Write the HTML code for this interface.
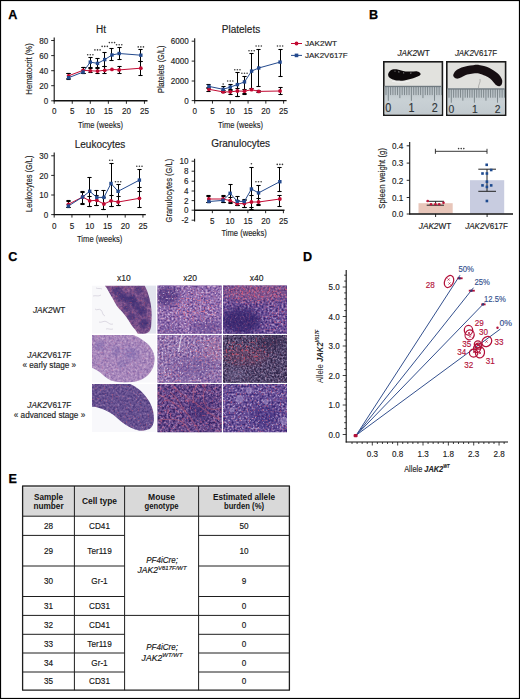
<!DOCTYPE html><html><head><meta charset="utf-8"><style>html,body{margin:0;padding:0;background:#fff;}svg{display:block;}text{font-family:"Liberation Sans",sans-serif;}</style></head><body>
<svg width="520" height="699" viewBox="0 0 520 699" fill="#222">
<rect x="0" y="0" width="520" height="699" fill="#fff"/>
<text x="8.20" y="18.80" font-size="12.6" text-anchor="start" font-weight="bold" fill="#000" stroke="#000" stroke-width="0.25">A</text>
<text x="369.00" y="18.75" font-size="12.6" text-anchor="start" font-weight="bold" fill="#000" stroke="#000" stroke-width="0.25">B</text>
<text x="8.20" y="261.40" font-size="12.6" text-anchor="start" font-weight="bold" fill="#000" stroke="#000" stroke-width="0.25">C</text>
<text x="302.90" y="261.20" font-size="12.6" text-anchor="start" font-weight="bold" fill="#000" stroke="#000" stroke-width="0.25">D</text>
<text x="8.40" y="482.60" font-size="12.6" text-anchor="start" font-weight="bold" fill="#000" stroke="#000" stroke-width="0.25">E</text>
<line x1="54.20" y1="37.50" x2="54.20" y2="101.30" stroke="#111" stroke-width="1.1"/>
<line x1="53.70" y1="100.80" x2="147.50" y2="100.80" stroke="#111" stroke-width="1.4"/>
<line x1="51.20" y1="40.50" x2="54.20" y2="40.50" stroke="#111" stroke-width="0.9"/>
<text x="48.30" y="43.70" font-size="9" text-anchor="end" fill="#222" stroke="#222" stroke-width="0.15" textLength="9.01" lengthAdjust="spacingAndGlyphs">80</text>
<line x1="51.20" y1="55.60" x2="54.20" y2="55.60" stroke="#111" stroke-width="0.9"/>
<text x="48.30" y="58.80" font-size="9" text-anchor="end" fill="#222" stroke="#222" stroke-width="0.15" textLength="9.01" lengthAdjust="spacingAndGlyphs">60</text>
<line x1="51.20" y1="70.70" x2="54.20" y2="70.70" stroke="#111" stroke-width="0.9"/>
<text x="48.30" y="73.90" font-size="9" text-anchor="end" fill="#222" stroke="#222" stroke-width="0.15" textLength="9.01" lengthAdjust="spacingAndGlyphs">40</text>
<line x1="51.20" y1="85.70" x2="54.20" y2="85.70" stroke="#111" stroke-width="0.9"/>
<text x="48.30" y="88.90" font-size="9" text-anchor="end" fill="#222" stroke="#222" stroke-width="0.15" textLength="9.01" lengthAdjust="spacingAndGlyphs">20</text>
<line x1="51.20" y1="100.80" x2="54.20" y2="100.80" stroke="#111" stroke-width="0.9"/>
<text x="48.30" y="104.00" font-size="9" text-anchor="end" fill="#222" stroke="#222" stroke-width="0.15" textLength="4.50" lengthAdjust="spacingAndGlyphs">0</text>
<line x1="54.20" y1="100.80" x2="54.20" y2="103.80" stroke="#111" stroke-width="0.9"/>
<text x="54.20" y="114.10" font-size="9" text-anchor="middle" fill="#222" stroke="#222" stroke-width="0.15" textLength="4.50" lengthAdjust="spacingAndGlyphs">0</text>
<line x1="72.25" y1="100.80" x2="72.25" y2="103.80" stroke="#111" stroke-width="0.9"/>
<text x="72.25" y="114.10" font-size="9" text-anchor="middle" fill="#222" stroke="#222" stroke-width="0.15" textLength="4.50" lengthAdjust="spacingAndGlyphs">5</text>
<line x1="90.30" y1="100.80" x2="90.30" y2="103.80" stroke="#111" stroke-width="0.9"/>
<text x="90.30" y="114.10" font-size="9" text-anchor="middle" fill="#222" stroke="#222" stroke-width="0.15" textLength="9.01" lengthAdjust="spacingAndGlyphs">10</text>
<line x1="108.35" y1="100.80" x2="108.35" y2="103.80" stroke="#111" stroke-width="0.9"/>
<text x="108.35" y="114.10" font-size="9" text-anchor="middle" fill="#222" stroke="#222" stroke-width="0.15" textLength="9.01" lengthAdjust="spacingAndGlyphs">15</text>
<line x1="126.40" y1="100.80" x2="126.40" y2="103.80" stroke="#111" stroke-width="0.9"/>
<text x="126.40" y="114.10" font-size="9" text-anchor="middle" fill="#222" stroke="#222" stroke-width="0.15" textLength="9.01" lengthAdjust="spacingAndGlyphs">20</text>
<line x1="144.45" y1="100.80" x2="144.45" y2="103.80" stroke="#111" stroke-width="0.9"/>
<text x="144.45" y="114.10" font-size="9" text-anchor="middle" fill="#222" stroke="#222" stroke-width="0.15" textLength="9.01" lengthAdjust="spacingAndGlyphs">25</text>
<line x1="68.50" y1="73.70" x2="68.50" y2="79.00" stroke="#000" stroke-width="1"/>
<line x1="66.40" y1="73.50" x2="70.60" y2="73.50" stroke="#000" stroke-width="1.1"/>
<line x1="66.40" y1="79.50" x2="70.60" y2="79.50" stroke="#000" stroke-width="1.1"/>
<line x1="83.50" y1="67.70" x2="83.50" y2="73.70" stroke="#000" stroke-width="1"/>
<line x1="81.40" y1="67.50" x2="85.60" y2="67.50" stroke="#000" stroke-width="1.1"/>
<line x1="81.40" y1="73.50" x2="85.60" y2="73.50" stroke="#000" stroke-width="1.1"/>
<line x1="90.50" y1="57.30" x2="90.50" y2="67.70" stroke="#000" stroke-width="1"/>
<line x1="88.40" y1="57.50" x2="92.60" y2="57.50" stroke="#000" stroke-width="1.1"/>
<line x1="88.40" y1="67.50" x2="92.60" y2="67.50" stroke="#000" stroke-width="1.1"/>
<line x1="97.50" y1="58.50" x2="97.50" y2="67.70" stroke="#000" stroke-width="1"/>
<line x1="95.40" y1="58.50" x2="99.60" y2="58.50" stroke="#000" stroke-width="1.1"/>
<line x1="95.40" y1="67.50" x2="99.60" y2="67.50" stroke="#000" stroke-width="1.1"/>
<line x1="104.50" y1="52.60" x2="104.50" y2="66.00" stroke="#000" stroke-width="1"/>
<line x1="102.40" y1="52.50" x2="106.60" y2="52.50" stroke="#000" stroke-width="1.1"/>
<line x1="102.40" y1="66.50" x2="106.60" y2="66.50" stroke="#000" stroke-width="1.1"/>
<line x1="111.50" y1="48.70" x2="111.50" y2="60.80" stroke="#000" stroke-width="1"/>
<line x1="109.40" y1="48.50" x2="113.60" y2="48.50" stroke="#000" stroke-width="1.1"/>
<line x1="109.40" y1="60.50" x2="113.60" y2="60.50" stroke="#000" stroke-width="1.1"/>
<line x1="119.50" y1="47.30" x2="119.50" y2="59.90" stroke="#000" stroke-width="1"/>
<line x1="117.40" y1="47.50" x2="121.60" y2="47.50" stroke="#000" stroke-width="1.1"/>
<line x1="117.40" y1="59.50" x2="121.60" y2="59.50" stroke="#000" stroke-width="1.1"/>
<line x1="140.50" y1="49.50" x2="140.50" y2="61.10" stroke="#000" stroke-width="1"/>
<line x1="138.40" y1="49.50" x2="142.60" y2="49.50" stroke="#000" stroke-width="1.1"/>
<line x1="138.40" y1="61.50" x2="142.60" y2="61.50" stroke="#000" stroke-width="1.1"/>
<line x1="68.50" y1="73.20" x2="68.50" y2="78.00" stroke="#000" stroke-width="1"/>
<line x1="66.40" y1="73.50" x2="70.60" y2="73.50" stroke="#000" stroke-width="1.1"/>
<line x1="66.40" y1="78.50" x2="70.60" y2="78.50" stroke="#000" stroke-width="1.1"/>
<line x1="83.50" y1="67.50" x2="83.50" y2="73.50" stroke="#000" stroke-width="1"/>
<line x1="81.40" y1="67.50" x2="85.60" y2="67.50" stroke="#000" stroke-width="1.1"/>
<line x1="81.40" y1="73.50" x2="85.60" y2="73.50" stroke="#000" stroke-width="1.1"/>
<line x1="90.50" y1="68.00" x2="90.50" y2="72.90" stroke="#000" stroke-width="1"/>
<line x1="88.40" y1="68.50" x2="92.60" y2="68.50" stroke="#000" stroke-width="1.1"/>
<line x1="88.40" y1="72.50" x2="92.60" y2="72.50" stroke="#000" stroke-width="1.1"/>
<line x1="97.50" y1="68.00" x2="97.50" y2="73.20" stroke="#000" stroke-width="1"/>
<line x1="95.40" y1="68.50" x2="99.60" y2="68.50" stroke="#000" stroke-width="1.1"/>
<line x1="95.40" y1="73.50" x2="99.60" y2="73.50" stroke="#000" stroke-width="1.1"/>
<line x1="104.50" y1="66.00" x2="104.50" y2="73.20" stroke="#000" stroke-width="1"/>
<line x1="102.40" y1="66.50" x2="106.60" y2="66.50" stroke="#000" stroke-width="1.1"/>
<line x1="102.40" y1="73.50" x2="106.60" y2="73.50" stroke="#000" stroke-width="1.1"/>
<line x1="119.50" y1="66.80" x2="119.50" y2="73.20" stroke="#000" stroke-width="1"/>
<line x1="117.40" y1="66.50" x2="121.60" y2="66.50" stroke="#000" stroke-width="1.1"/>
<line x1="117.40" y1="73.50" x2="121.60" y2="73.50" stroke="#000" stroke-width="1.1"/>
<line x1="140.50" y1="61.10" x2="140.50" y2="75.50" stroke="#000" stroke-width="1"/>
<line x1="138.40" y1="61.50" x2="142.60" y2="61.50" stroke="#000" stroke-width="1.1"/>
<line x1="138.40" y1="75.50" x2="142.60" y2="75.50" stroke="#000" stroke-width="1.1"/>
<polyline points="68.64,75.80 83.08,70.30 90.30,70.80 97.52,71.10 104.74,70.30 111.96,69.40 119.18,69.90 140.84,68.20" fill="none" stroke="#c20a32" stroke-width="1"/>
<polyline points="68.64,77.70 83.08,72.00 90.30,62.10 97.52,63.40 104.74,59.60 111.96,55.00 119.18,53.50 140.84,55.20" fill="none" stroke="#244a8e" stroke-width="1"/>
<circle cx="68.64" cy="75.80" r="1.9" fill="#c20a32"/>
<circle cx="83.08" cy="70.30" r="1.9" fill="#c20a32"/>
<circle cx="90.30" cy="70.80" r="1.9" fill="#c20a32"/>
<circle cx="97.52" cy="71.10" r="1.9" fill="#c20a32"/>
<circle cx="104.74" cy="70.30" r="1.9" fill="#c20a32"/>
<circle cx="111.96" cy="69.40" r="1.9" fill="#c20a32"/>
<circle cx="119.18" cy="69.90" r="1.9" fill="#c20a32"/>
<circle cx="140.84" cy="68.20" r="1.9" fill="#c20a32"/>
<rect x="66.94" y="76.00" width="3.4" height="3.4" fill="#244a8e"/>
<rect x="81.38" y="70.30" width="3.4" height="3.4" fill="#244a8e"/>
<rect x="88.60" y="60.40" width="3.4" height="3.4" fill="#244a8e"/>
<rect x="95.82" y="61.70" width="3.4" height="3.4" fill="#244a8e"/>
<rect x="103.04" y="57.90" width="3.4" height="3.4" fill="#244a8e"/>
<rect x="110.26" y="53.30" width="3.4" height="3.4" fill="#244a8e"/>
<rect x="117.48" y="51.80" width="3.4" height="3.4" fill="#244a8e"/>
<rect x="139.14" y="53.50" width="3.4" height="3.4" fill="#244a8e"/>
<circle cx="87.70" cy="54.70" r="0.8" fill="#3a3a3a"/>
<circle cx="90.30" cy="54.70" r="0.8" fill="#3a3a3a"/>
<circle cx="92.90" cy="54.70" r="0.8" fill="#3a3a3a"/>
<circle cx="94.92" cy="49.90" r="0.8" fill="#3a3a3a"/>
<circle cx="97.52" cy="49.90" r="0.8" fill="#3a3a3a"/>
<circle cx="100.12" cy="49.90" r="0.8" fill="#3a3a3a"/>
<circle cx="102.14" cy="46.40" r="0.8" fill="#3a3a3a"/>
<circle cx="104.74" cy="46.40" r="0.8" fill="#3a3a3a"/>
<circle cx="107.34" cy="46.40" r="0.8" fill="#3a3a3a"/>
<circle cx="109.36" cy="42.60" r="0.8" fill="#3a3a3a"/>
<circle cx="111.96" cy="42.60" r="0.8" fill="#3a3a3a"/>
<circle cx="114.56" cy="42.60" r="0.8" fill="#3a3a3a"/>
<circle cx="116.58" cy="44.80" r="0.8" fill="#3a3a3a"/>
<circle cx="119.18" cy="44.80" r="0.8" fill="#3a3a3a"/>
<circle cx="121.78" cy="44.80" r="0.8" fill="#3a3a3a"/>
<circle cx="138.24" cy="46.90" r="0.8" fill="#3a3a3a"/>
<circle cx="140.84" cy="46.90" r="0.8" fill="#3a3a3a"/>
<circle cx="143.44" cy="46.90" r="0.8" fill="#3a3a3a"/>
<text x="101.00" y="33.00" font-size="10" text-anchor="middle" fill="#222" stroke="#222" stroke-width="0.15">Ht</text>
<text transform="translate(32.13,69.00) rotate(-90)" x="0" y="0" font-size="9.8" text-anchor="middle" stroke="#222" stroke-width="0.15" textLength="51.40" lengthAdjust="spacingAndGlyphs">Hematocrit (%)</text>
<text x="78.00" y="127.60" font-size="9.8" text-anchor="start" fill="#222" stroke="#222" stroke-width="0.15" textLength="45.00" lengthAdjust="spacingAndGlyphs">Time (weeks)</text>
<line x1="194.70" y1="38.20" x2="194.70" y2="101.10" stroke="#111" stroke-width="1.1"/>
<line x1="194.20" y1="100.60" x2="286.60" y2="100.60" stroke="#111" stroke-width="1.4"/>
<line x1="191.70" y1="41.20" x2="194.70" y2="41.20" stroke="#111" stroke-width="0.9"/>
<text x="188.80" y="44.40" font-size="9" text-anchor="end" fill="#222" stroke="#222" stroke-width="0.15" textLength="18.02" lengthAdjust="spacingAndGlyphs">6000</text>
<line x1="191.70" y1="61.10" x2="194.70" y2="61.10" stroke="#111" stroke-width="0.9"/>
<text x="188.80" y="64.30" font-size="9" text-anchor="end" fill="#222" stroke="#222" stroke-width="0.15" textLength="18.02" lengthAdjust="spacingAndGlyphs">4000</text>
<line x1="191.70" y1="81.00" x2="194.70" y2="81.00" stroke="#111" stroke-width="0.9"/>
<text x="188.80" y="84.20" font-size="9" text-anchor="end" fill="#222" stroke="#222" stroke-width="0.15" textLength="18.02" lengthAdjust="spacingAndGlyphs">2000</text>
<line x1="191.70" y1="100.60" x2="194.70" y2="100.60" stroke="#111" stroke-width="0.9"/>
<text x="188.80" y="103.80" font-size="9" text-anchor="end" fill="#222" stroke="#222" stroke-width="0.15" textLength="4.50" lengthAdjust="spacingAndGlyphs">0</text>
<line x1="194.70" y1="100.60" x2="194.70" y2="103.60" stroke="#111" stroke-width="0.9"/>
<text x="194.70" y="114.10" font-size="9" text-anchor="middle" fill="#222" stroke="#222" stroke-width="0.15" textLength="4.50" lengthAdjust="spacingAndGlyphs">0</text>
<line x1="212.48" y1="100.60" x2="212.48" y2="103.60" stroke="#111" stroke-width="0.9"/>
<text x="212.48" y="114.10" font-size="9" text-anchor="middle" fill="#222" stroke="#222" stroke-width="0.15" textLength="4.50" lengthAdjust="spacingAndGlyphs">5</text>
<line x1="230.26" y1="100.60" x2="230.26" y2="103.60" stroke="#111" stroke-width="0.9"/>
<text x="230.26" y="114.10" font-size="9" text-anchor="middle" fill="#222" stroke="#222" stroke-width="0.15" textLength="9.01" lengthAdjust="spacingAndGlyphs">10</text>
<line x1="248.05" y1="100.60" x2="248.05" y2="103.60" stroke="#111" stroke-width="0.9"/>
<text x="248.05" y="114.10" font-size="9" text-anchor="middle" fill="#222" stroke="#222" stroke-width="0.15" textLength="9.01" lengthAdjust="spacingAndGlyphs">15</text>
<line x1="265.83" y1="100.60" x2="265.83" y2="103.60" stroke="#111" stroke-width="0.9"/>
<text x="265.83" y="114.10" font-size="9" text-anchor="middle" fill="#222" stroke="#222" stroke-width="0.15" textLength="9.01" lengthAdjust="spacingAndGlyphs">20</text>
<line x1="283.61" y1="100.60" x2="283.61" y2="103.60" stroke="#111" stroke-width="0.9"/>
<text x="283.61" y="114.10" font-size="9" text-anchor="middle" fill="#222" stroke="#222" stroke-width="0.15" textLength="9.01" lengthAdjust="spacingAndGlyphs">25</text>
<line x1="208.50" y1="84.80" x2="208.50" y2="88.00" stroke="#000" stroke-width="1"/>
<line x1="206.40" y1="84.50" x2="210.60" y2="84.50" stroke="#000" stroke-width="1.1"/>
<line x1="206.40" y1="88.50" x2="210.60" y2="88.50" stroke="#000" stroke-width="1.1"/>
<line x1="223.50" y1="86.70" x2="223.50" y2="92.00" stroke="#000" stroke-width="1"/>
<line x1="221.40" y1="86.50" x2="225.60" y2="86.50" stroke="#000" stroke-width="1.1"/>
<line x1="221.40" y1="92.50" x2="225.60" y2="92.50" stroke="#000" stroke-width="1.1"/>
<line x1="230.50" y1="84.10" x2="230.50" y2="90.00" stroke="#000" stroke-width="1"/>
<line x1="228.40" y1="84.50" x2="232.60" y2="84.50" stroke="#000" stroke-width="1.1"/>
<line x1="228.40" y1="90.50" x2="232.60" y2="90.50" stroke="#000" stroke-width="1.1"/>
<line x1="237.50" y1="72.50" x2="237.50" y2="96.20" stroke="#000" stroke-width="1"/>
<line x1="235.40" y1="72.50" x2="239.60" y2="72.50" stroke="#000" stroke-width="1.1"/>
<line x1="235.40" y1="96.50" x2="239.60" y2="96.50" stroke="#000" stroke-width="1.1"/>
<line x1="244.50" y1="76.00" x2="244.50" y2="93.60" stroke="#000" stroke-width="1"/>
<line x1="242.40" y1="76.50" x2="246.60" y2="76.50" stroke="#000" stroke-width="1.1"/>
<line x1="242.40" y1="93.50" x2="246.60" y2="93.50" stroke="#000" stroke-width="1.1"/>
<line x1="251.50" y1="53.50" x2="251.50" y2="88.40" stroke="#000" stroke-width="1"/>
<line x1="249.40" y1="53.50" x2="253.60" y2="53.50" stroke="#000" stroke-width="1.1"/>
<line x1="249.40" y1="88.50" x2="253.60" y2="88.50" stroke="#000" stroke-width="1.1"/>
<line x1="258.50" y1="49.00" x2="258.50" y2="86.70" stroke="#000" stroke-width="1"/>
<line x1="256.40" y1="49.50" x2="260.60" y2="49.50" stroke="#000" stroke-width="1.1"/>
<line x1="256.40" y1="86.50" x2="260.60" y2="86.50" stroke="#000" stroke-width="1.1"/>
<line x1="280.50" y1="49.00" x2="280.50" y2="76.30" stroke="#000" stroke-width="1"/>
<line x1="278.40" y1="49.50" x2="282.60" y2="49.50" stroke="#000" stroke-width="1.1"/>
<line x1="278.40" y1="76.50" x2="282.60" y2="76.50" stroke="#000" stroke-width="1.1"/>
<line x1="208.50" y1="87.50" x2="208.50" y2="91.00" stroke="#000" stroke-width="1"/>
<line x1="206.40" y1="87.50" x2="210.60" y2="87.50" stroke="#000" stroke-width="1.1"/>
<line x1="206.40" y1="91.50" x2="210.60" y2="91.50" stroke="#000" stroke-width="1.1"/>
<line x1="223.50" y1="90.00" x2="223.50" y2="92.80" stroke="#000" stroke-width="1"/>
<line x1="221.40" y1="90.50" x2="225.60" y2="90.50" stroke="#000" stroke-width="1.1"/>
<line x1="221.40" y1="92.50" x2="225.60" y2="92.50" stroke="#000" stroke-width="1.1"/>
<line x1="230.50" y1="89.00" x2="230.50" y2="94.50" stroke="#000" stroke-width="1"/>
<line x1="228.40" y1="89.50" x2="232.60" y2="89.50" stroke="#000" stroke-width="1.1"/>
<line x1="228.40" y1="94.50" x2="232.60" y2="94.50" stroke="#000" stroke-width="1.1"/>
<line x1="237.50" y1="88.00" x2="237.50" y2="96.20" stroke="#000" stroke-width="1"/>
<line x1="235.40" y1="88.50" x2="239.60" y2="88.50" stroke="#000" stroke-width="1.1"/>
<line x1="235.40" y1="96.50" x2="239.60" y2="96.50" stroke="#000" stroke-width="1.1"/>
<line x1="244.50" y1="89.00" x2="244.50" y2="94.00" stroke="#000" stroke-width="1"/>
<line x1="242.40" y1="89.50" x2="246.60" y2="89.50" stroke="#000" stroke-width="1.1"/>
<line x1="242.40" y1="94.50" x2="246.60" y2="94.50" stroke="#000" stroke-width="1.1"/>
<line x1="258.50" y1="90.20" x2="258.50" y2="92.80" stroke="#000" stroke-width="1"/>
<line x1="256.40" y1="90.50" x2="260.60" y2="90.50" stroke="#000" stroke-width="1.1"/>
<line x1="256.40" y1="92.50" x2="260.60" y2="92.50" stroke="#000" stroke-width="1.1"/>
<line x1="280.50" y1="87.00" x2="280.50" y2="94.50" stroke="#000" stroke-width="1"/>
<line x1="278.40" y1="87.50" x2="282.60" y2="87.50" stroke="#000" stroke-width="1.1"/>
<line x1="278.40" y1="94.50" x2="282.60" y2="94.50" stroke="#000" stroke-width="1.1"/>
<polyline points="208.93,89.30 223.15,91.90 230.26,91.90 237.38,91.00 244.49,91.20 251.60,89.70 258.72,91.40 280.06,91.00" fill="none" stroke="#c20a32" stroke-width="1"/>
<polyline points="208.93,86.40 223.15,89.30 230.26,87.10 237.38,84.60 244.49,81.90 251.60,71.10 258.72,68.00 280.06,62.10" fill="none" stroke="#244a8e" stroke-width="1"/>
<circle cx="208.93" cy="89.30" r="1.9" fill="#c20a32"/>
<circle cx="223.15" cy="91.90" r="1.9" fill="#c20a32"/>
<circle cx="230.26" cy="91.90" r="1.9" fill="#c20a32"/>
<circle cx="237.38" cy="91.00" r="1.9" fill="#c20a32"/>
<circle cx="244.49" cy="91.20" r="1.9" fill="#c20a32"/>
<circle cx="251.60" cy="89.70" r="1.9" fill="#c20a32"/>
<circle cx="258.72" cy="91.40" r="1.9" fill="#c20a32"/>
<circle cx="280.06" cy="91.00" r="1.9" fill="#c20a32"/>
<rect x="207.23" y="84.70" width="3.4" height="3.4" fill="#244a8e"/>
<rect x="221.45" y="87.60" width="3.4" height="3.4" fill="#244a8e"/>
<rect x="228.56" y="85.40" width="3.4" height="3.4" fill="#244a8e"/>
<rect x="235.68" y="82.90" width="3.4" height="3.4" fill="#244a8e"/>
<rect x="242.79" y="80.20" width="3.4" height="3.4" fill="#244a8e"/>
<rect x="249.90" y="69.40" width="3.4" height="3.4" fill="#244a8e"/>
<rect x="257.02" y="66.30" width="3.4" height="3.4" fill="#244a8e"/>
<rect x="278.36" y="60.40" width="3.4" height="3.4" fill="#244a8e"/>
<circle cx="223.15" cy="84.10" r="0.8" fill="#3a3a3a"/>
<circle cx="227.66" cy="81.00" r="0.8" fill="#3a3a3a"/>
<circle cx="230.26" cy="81.00" r="0.8" fill="#3a3a3a"/>
<circle cx="232.86" cy="81.00" r="0.8" fill="#3a3a3a"/>
<circle cx="234.78" cy="69.80" r="0.8" fill="#3a3a3a"/>
<circle cx="237.38" cy="69.80" r="0.8" fill="#3a3a3a"/>
<circle cx="239.98" cy="69.80" r="0.8" fill="#3a3a3a"/>
<circle cx="241.89" cy="73.20" r="0.8" fill="#3a3a3a"/>
<circle cx="244.49" cy="73.20" r="0.8" fill="#3a3a3a"/>
<circle cx="247.09" cy="73.20" r="0.8" fill="#3a3a3a"/>
<circle cx="249.00" cy="50.70" r="0.8" fill="#3a3a3a"/>
<circle cx="251.60" cy="50.70" r="0.8" fill="#3a3a3a"/>
<circle cx="254.20" cy="50.70" r="0.8" fill="#3a3a3a"/>
<circle cx="256.12" cy="46.00" r="0.8" fill="#3a3a3a"/>
<circle cx="258.72" cy="46.00" r="0.8" fill="#3a3a3a"/>
<circle cx="261.32" cy="46.00" r="0.8" fill="#3a3a3a"/>
<circle cx="277.46" cy="46.00" r="0.8" fill="#3a3a3a"/>
<circle cx="280.06" cy="46.00" r="0.8" fill="#3a3a3a"/>
<circle cx="282.66" cy="46.00" r="0.8" fill="#3a3a3a"/>
<text x="241.00" y="33.30" font-size="10" text-anchor="middle" fill="#222" stroke="#222" stroke-width="0.15">Platelets</text>
<text transform="translate(163.73,69.20) rotate(-90)" x="0" y="0" font-size="9.8" text-anchor="middle" stroke="#222" stroke-width="0.15" textLength="47.60" lengthAdjust="spacingAndGlyphs">Platelets (G/L)</text>
<text x="218.00" y="127.60" font-size="9.8" text-anchor="start" fill="#222" stroke="#222" stroke-width="0.15" textLength="45.00" lengthAdjust="spacingAndGlyphs">Time (weeks)</text>
<line x1="54.20" y1="152.50" x2="54.20" y2="215.10" stroke="#111" stroke-width="1.1"/>
<line x1="53.70" y1="214.60" x2="145.80" y2="214.60" stroke="#111" stroke-width="1.4"/>
<line x1="51.20" y1="155.80" x2="54.20" y2="155.80" stroke="#111" stroke-width="0.9"/>
<text x="48.30" y="159.00" font-size="9" text-anchor="end" fill="#222" stroke="#222" stroke-width="0.15" textLength="9.01" lengthAdjust="spacingAndGlyphs">30</text>
<line x1="51.20" y1="175.40" x2="54.20" y2="175.40" stroke="#111" stroke-width="0.9"/>
<text x="48.30" y="178.60" font-size="9" text-anchor="end" fill="#222" stroke="#222" stroke-width="0.15" textLength="9.01" lengthAdjust="spacingAndGlyphs">20</text>
<line x1="51.20" y1="195.00" x2="54.20" y2="195.00" stroke="#111" stroke-width="0.9"/>
<text x="48.30" y="198.20" font-size="9" text-anchor="end" fill="#222" stroke="#222" stroke-width="0.15" textLength="9.01" lengthAdjust="spacingAndGlyphs">10</text>
<line x1="51.20" y1="214.60" x2="54.20" y2="214.60" stroke="#111" stroke-width="0.9"/>
<text x="48.30" y="217.80" font-size="9" text-anchor="end" fill="#222" stroke="#222" stroke-width="0.15" textLength="4.50" lengthAdjust="spacingAndGlyphs">0</text>
<line x1="54.20" y1="214.60" x2="54.20" y2="217.60" stroke="#111" stroke-width="0.9"/>
<text x="54.20" y="228.60" font-size="9" text-anchor="middle" fill="#222" stroke="#222" stroke-width="0.15" textLength="4.50" lengthAdjust="spacingAndGlyphs">0</text>
<line x1="71.95" y1="214.60" x2="71.95" y2="217.60" stroke="#111" stroke-width="0.9"/>
<text x="71.95" y="228.60" font-size="9" text-anchor="middle" fill="#222" stroke="#222" stroke-width="0.15" textLength="4.50" lengthAdjust="spacingAndGlyphs">5</text>
<line x1="89.70" y1="214.60" x2="89.70" y2="217.60" stroke="#111" stroke-width="0.9"/>
<text x="89.70" y="228.60" font-size="9" text-anchor="middle" fill="#222" stroke="#222" stroke-width="0.15" textLength="9.01" lengthAdjust="spacingAndGlyphs">10</text>
<line x1="107.45" y1="214.60" x2="107.45" y2="217.60" stroke="#111" stroke-width="0.9"/>
<text x="107.45" y="228.60" font-size="9" text-anchor="middle" fill="#222" stroke="#222" stroke-width="0.15" textLength="9.01" lengthAdjust="spacingAndGlyphs">15</text>
<line x1="125.20" y1="214.60" x2="125.20" y2="217.60" stroke="#111" stroke-width="0.9"/>
<text x="125.20" y="228.60" font-size="9" text-anchor="middle" fill="#222" stroke="#222" stroke-width="0.15" textLength="9.01" lengthAdjust="spacingAndGlyphs">20</text>
<line x1="142.95" y1="214.60" x2="142.95" y2="217.60" stroke="#111" stroke-width="0.9"/>
<text x="142.95" y="228.60" font-size="9" text-anchor="middle" fill="#222" stroke="#222" stroke-width="0.15" textLength="9.01" lengthAdjust="spacingAndGlyphs">25</text>
<line x1="68.50" y1="200.80" x2="68.50" y2="207.80" stroke="#000" stroke-width="1"/>
<line x1="66.40" y1="200.50" x2="70.60" y2="200.50" stroke="#000" stroke-width="1.1"/>
<line x1="66.40" y1="207.50" x2="70.60" y2="207.50" stroke="#000" stroke-width="1.1"/>
<line x1="82.50" y1="191.70" x2="82.50" y2="204.30" stroke="#000" stroke-width="1"/>
<line x1="80.40" y1="191.50" x2="84.60" y2="191.50" stroke="#000" stroke-width="1.1"/>
<line x1="80.40" y1="204.50" x2="84.60" y2="204.50" stroke="#000" stroke-width="1.1"/>
<line x1="89.50" y1="177.50" x2="89.50" y2="206.60" stroke="#000" stroke-width="1"/>
<line x1="87.40" y1="177.50" x2="91.60" y2="177.50" stroke="#000" stroke-width="1.1"/>
<line x1="87.40" y1="206.50" x2="91.60" y2="206.50" stroke="#000" stroke-width="1.1"/>
<line x1="96.50" y1="190.50" x2="96.50" y2="205.20" stroke="#000" stroke-width="1"/>
<line x1="94.40" y1="190.50" x2="98.60" y2="190.50" stroke="#000" stroke-width="1.1"/>
<line x1="94.40" y1="205.50" x2="98.60" y2="205.50" stroke="#000" stroke-width="1.1"/>
<line x1="103.50" y1="190.50" x2="103.50" y2="209.00" stroke="#000" stroke-width="1"/>
<line x1="101.40" y1="190.50" x2="105.60" y2="190.50" stroke="#000" stroke-width="1.1"/>
<line x1="101.40" y1="209.50" x2="105.60" y2="209.50" stroke="#000" stroke-width="1.1"/>
<line x1="111.50" y1="163.30" x2="111.50" y2="206.00" stroke="#000" stroke-width="1"/>
<line x1="109.40" y1="163.50" x2="113.60" y2="163.50" stroke="#000" stroke-width="1.1"/>
<line x1="109.40" y1="206.50" x2="113.60" y2="206.50" stroke="#000" stroke-width="1.1"/>
<line x1="118.50" y1="184.40" x2="118.50" y2="205.50" stroke="#000" stroke-width="1"/>
<line x1="116.40" y1="184.50" x2="120.60" y2="184.50" stroke="#000" stroke-width="1.1"/>
<line x1="116.40" y1="205.50" x2="120.60" y2="205.50" stroke="#000" stroke-width="1.1"/>
<line x1="139.50" y1="169.20" x2="139.50" y2="191.30" stroke="#000" stroke-width="1"/>
<line x1="137.40" y1="169.50" x2="141.60" y2="169.50" stroke="#000" stroke-width="1.1"/>
<line x1="137.40" y1="191.50" x2="141.60" y2="191.50" stroke="#000" stroke-width="1.1"/>
<line x1="68.50" y1="201.00" x2="68.50" y2="207.50" stroke="#000" stroke-width="1"/>
<line x1="66.40" y1="201.50" x2="70.60" y2="201.50" stroke="#000" stroke-width="1.1"/>
<line x1="66.40" y1="207.50" x2="70.60" y2="207.50" stroke="#000" stroke-width="1.1"/>
<line x1="82.50" y1="192.00" x2="82.50" y2="203.50" stroke="#000" stroke-width="1"/>
<line x1="80.40" y1="192.50" x2="84.60" y2="192.50" stroke="#000" stroke-width="1.1"/>
<line x1="80.40" y1="203.50" x2="84.60" y2="203.50" stroke="#000" stroke-width="1.1"/>
<line x1="89.50" y1="196.00" x2="89.50" y2="206.00" stroke="#000" stroke-width="1"/>
<line x1="87.40" y1="196.50" x2="91.60" y2="196.50" stroke="#000" stroke-width="1.1"/>
<line x1="87.40" y1="206.50" x2="91.60" y2="206.50" stroke="#000" stroke-width="1.1"/>
<line x1="96.50" y1="195.00" x2="96.50" y2="205.00" stroke="#000" stroke-width="1"/>
<line x1="94.40" y1="195.50" x2="98.60" y2="195.50" stroke="#000" stroke-width="1.1"/>
<line x1="94.40" y1="205.50" x2="98.60" y2="205.50" stroke="#000" stroke-width="1.1"/>
<line x1="103.50" y1="197.00" x2="103.50" y2="209.00" stroke="#000" stroke-width="1"/>
<line x1="101.40" y1="197.50" x2="105.60" y2="197.50" stroke="#000" stroke-width="1.1"/>
<line x1="101.40" y1="209.50" x2="105.60" y2="209.50" stroke="#000" stroke-width="1.1"/>
<line x1="111.50" y1="195.00" x2="111.50" y2="206.00" stroke="#000" stroke-width="1"/>
<line x1="109.40" y1="195.50" x2="113.60" y2="195.50" stroke="#000" stroke-width="1.1"/>
<line x1="109.40" y1="206.50" x2="113.60" y2="206.50" stroke="#000" stroke-width="1.1"/>
<line x1="118.50" y1="196.00" x2="118.50" y2="205.50" stroke="#000" stroke-width="1"/>
<line x1="116.40" y1="196.50" x2="120.60" y2="196.50" stroke="#000" stroke-width="1.1"/>
<line x1="116.40" y1="205.50" x2="120.60" y2="205.50" stroke="#000" stroke-width="1.1"/>
<line x1="139.50" y1="187.90" x2="139.50" y2="207.80" stroke="#000" stroke-width="1"/>
<line x1="137.40" y1="187.50" x2="141.60" y2="187.50" stroke="#000" stroke-width="1.1"/>
<line x1="137.40" y1="207.50" x2="141.60" y2="207.50" stroke="#000" stroke-width="1.1"/>
<polyline points="68.40,204.30 82.60,197.00 89.70,200.80 96.80,200.30 103.90,204.00 111.00,200.80 118.10,202.00 139.40,198.30" fill="none" stroke="#c20a32" stroke-width="1"/>
<polyline points="68.40,206.00 82.60,197.00 89.70,191.30 96.80,197.40 103.90,197.40 111.00,183.50 118.10,191.30 139.40,180.10" fill="none" stroke="#244a8e" stroke-width="1"/>
<circle cx="68.40" cy="204.30" r="1.9" fill="#c20a32"/>
<circle cx="82.60" cy="197.00" r="1.9" fill="#c20a32"/>
<circle cx="89.70" cy="200.80" r="1.9" fill="#c20a32"/>
<circle cx="96.80" cy="200.30" r="1.9" fill="#c20a32"/>
<circle cx="103.90" cy="204.00" r="1.9" fill="#c20a32"/>
<circle cx="111.00" cy="200.80" r="1.9" fill="#c20a32"/>
<circle cx="118.10" cy="202.00" r="1.9" fill="#c20a32"/>
<circle cx="139.40" cy="198.30" r="1.9" fill="#c20a32"/>
<rect x="66.70" y="204.30" width="3.4" height="3.4" fill="#244a8e"/>
<rect x="80.90" y="195.30" width="3.4" height="3.4" fill="#244a8e"/>
<rect x="88.00" y="189.60" width="3.4" height="3.4" fill="#244a8e"/>
<rect x="95.10" y="195.70" width="3.4" height="3.4" fill="#244a8e"/>
<rect x="102.20" y="195.70" width="3.4" height="3.4" fill="#244a8e"/>
<rect x="109.30" y="181.80" width="3.4" height="3.4" fill="#244a8e"/>
<rect x="116.40" y="189.60" width="3.4" height="3.4" fill="#244a8e"/>
<rect x="137.70" y="178.40" width="3.4" height="3.4" fill="#244a8e"/>
<circle cx="109.70" cy="160.20" r="0.8" fill="#3a3a3a"/>
<circle cx="112.30" cy="160.20" r="0.8" fill="#3a3a3a"/>
<circle cx="115.50" cy="181.80" r="0.8" fill="#3a3a3a"/>
<circle cx="118.10" cy="181.80" r="0.8" fill="#3a3a3a"/>
<circle cx="120.70" cy="181.80" r="0.8" fill="#3a3a3a"/>
<circle cx="136.80" cy="166.20" r="0.8" fill="#3a3a3a"/>
<circle cx="139.40" cy="166.20" r="0.8" fill="#3a3a3a"/>
<circle cx="142.00" cy="166.20" r="0.8" fill="#3a3a3a"/>
<text x="100.00" y="148.00" font-size="10" text-anchor="middle" fill="#222" stroke="#222" stroke-width="0.15">Leukocytes</text>
<text transform="translate(31.53,183.80) rotate(-90)" x="0" y="0" font-size="9.8" text-anchor="middle" stroke="#222" stroke-width="0.15" textLength="56.40" lengthAdjust="spacingAndGlyphs">Leukocytes (G/L)</text>
<text x="77.00" y="242.00" font-size="9.8" text-anchor="start" fill="#222" stroke="#222" stroke-width="0.15" textLength="45.40" lengthAdjust="spacingAndGlyphs">Time (weeks)</text>
<line x1="194.60" y1="158.70" x2="194.60" y2="221.50" stroke="#111" stroke-width="1.1"/>
<line x1="194.10" y1="210.20" x2="284.50" y2="210.20" stroke="#111" stroke-width="1.4"/>
<line x1="191.60" y1="161.20" x2="194.60" y2="161.20" stroke="#111" stroke-width="0.9"/>
<text x="188.60" y="164.40" font-size="9" text-anchor="end" fill="#222" stroke="#222" stroke-width="0.15" textLength="9.01" lengthAdjust="spacingAndGlyphs">10</text>
<line x1="191.60" y1="171.20" x2="194.60" y2="171.20" stroke="#111" stroke-width="0.9"/>
<text x="188.60" y="174.40" font-size="9" text-anchor="end" fill="#222" stroke="#222" stroke-width="0.15" textLength="4.50" lengthAdjust="spacingAndGlyphs">8</text>
<line x1="191.60" y1="181.20" x2="194.60" y2="181.20" stroke="#111" stroke-width="0.9"/>
<text x="188.60" y="184.40" font-size="9" text-anchor="end" fill="#222" stroke="#222" stroke-width="0.15" textLength="4.50" lengthAdjust="spacingAndGlyphs">6</text>
<line x1="191.60" y1="191.00" x2="194.60" y2="191.00" stroke="#111" stroke-width="0.9"/>
<text x="188.60" y="194.20" font-size="9" text-anchor="end" fill="#222" stroke="#222" stroke-width="0.15" textLength="4.50" lengthAdjust="spacingAndGlyphs">4</text>
<line x1="191.60" y1="200.60" x2="194.60" y2="200.60" stroke="#111" stroke-width="0.9"/>
<text x="188.60" y="203.80" font-size="9" text-anchor="end" fill="#222" stroke="#222" stroke-width="0.15" textLength="4.50" lengthAdjust="spacingAndGlyphs">2</text>
<line x1="191.60" y1="210.20" x2="194.60" y2="210.20" stroke="#111" stroke-width="0.9"/>
<text x="188.60" y="213.40" font-size="9" text-anchor="end" fill="#222" stroke="#222" stroke-width="0.15" textLength="4.50" lengthAdjust="spacingAndGlyphs">0</text>
<line x1="191.60" y1="220.20" x2="194.60" y2="220.20" stroke="#111" stroke-width="0.9"/>
<text x="188.60" y="223.40" font-size="9" text-anchor="end" fill="#222" stroke="#222" stroke-width="0.15" textLength="7.20" lengthAdjust="spacingAndGlyphs">-2</text>
<line x1="212.36" y1="210.20" x2="212.36" y2="213.20" stroke="#111" stroke-width="0.9"/>
<text x="212.36" y="224.00" font-size="9" text-anchor="middle" fill="#222" stroke="#222" stroke-width="0.15" textLength="4.50" lengthAdjust="spacingAndGlyphs">5</text>
<line x1="230.12" y1="210.20" x2="230.12" y2="213.20" stroke="#111" stroke-width="0.9"/>
<text x="230.12" y="224.00" font-size="9" text-anchor="middle" fill="#222" stroke="#222" stroke-width="0.15" textLength="9.01" lengthAdjust="spacingAndGlyphs">10</text>
<line x1="247.88" y1="210.20" x2="247.88" y2="213.20" stroke="#111" stroke-width="0.9"/>
<text x="247.88" y="224.00" font-size="9" text-anchor="middle" fill="#222" stroke="#222" stroke-width="0.15" textLength="9.01" lengthAdjust="spacingAndGlyphs">15</text>
<line x1="265.64" y1="210.20" x2="265.64" y2="213.20" stroke="#111" stroke-width="0.9"/>
<text x="265.64" y="224.00" font-size="9" text-anchor="middle" fill="#222" stroke="#222" stroke-width="0.15" textLength="9.01" lengthAdjust="spacingAndGlyphs">20</text>
<line x1="283.40" y1="210.20" x2="283.40" y2="213.20" stroke="#111" stroke-width="0.9"/>
<text x="283.40" y="224.00" font-size="9" text-anchor="middle" fill="#222" stroke="#222" stroke-width="0.15" textLength="9.01" lengthAdjust="spacingAndGlyphs">25</text>
<line x1="208.50" y1="195.20" x2="208.50" y2="202.90" stroke="#000" stroke-width="1"/>
<line x1="206.40" y1="195.50" x2="210.60" y2="195.50" stroke="#000" stroke-width="1.1"/>
<line x1="206.40" y1="202.50" x2="210.60" y2="202.50" stroke="#000" stroke-width="1.1"/>
<line x1="223.50" y1="195.80" x2="223.50" y2="202.90" stroke="#000" stroke-width="1"/>
<line x1="221.40" y1="195.50" x2="225.60" y2="195.50" stroke="#000" stroke-width="1.1"/>
<line x1="221.40" y1="202.50" x2="225.60" y2="202.50" stroke="#000" stroke-width="1.1"/>
<line x1="230.50" y1="184.20" x2="230.50" y2="202.90" stroke="#000" stroke-width="1"/>
<line x1="228.40" y1="184.50" x2="232.60" y2="184.50" stroke="#000" stroke-width="1.1"/>
<line x1="228.40" y1="202.50" x2="232.60" y2="202.50" stroke="#000" stroke-width="1.1"/>
<line x1="237.50" y1="196.50" x2="237.50" y2="205.80" stroke="#000" stroke-width="1"/>
<line x1="235.40" y1="196.50" x2="239.60" y2="196.50" stroke="#000" stroke-width="1.1"/>
<line x1="235.40" y1="205.50" x2="239.60" y2="205.50" stroke="#000" stroke-width="1.1"/>
<line x1="244.50" y1="199.00" x2="244.50" y2="207.70" stroke="#000" stroke-width="1"/>
<line x1="242.40" y1="199.50" x2="246.60" y2="199.50" stroke="#000" stroke-width="1.1"/>
<line x1="242.40" y1="207.50" x2="246.60" y2="207.50" stroke="#000" stroke-width="1.1"/>
<line x1="251.50" y1="167.00" x2="251.50" y2="207.70" stroke="#000" stroke-width="1"/>
<line x1="249.40" y1="167.50" x2="253.60" y2="167.50" stroke="#000" stroke-width="1.1"/>
<line x1="249.40" y1="207.50" x2="253.60" y2="207.50" stroke="#000" stroke-width="1.1"/>
<line x1="258.50" y1="185.00" x2="258.50" y2="204.80" stroke="#000" stroke-width="1"/>
<line x1="256.40" y1="185.50" x2="260.60" y2="185.50" stroke="#000" stroke-width="1.1"/>
<line x1="256.40" y1="204.50" x2="260.60" y2="204.50" stroke="#000" stroke-width="1.1"/>
<line x1="279.50" y1="167.70" x2="279.50" y2="191.30" stroke="#000" stroke-width="1"/>
<line x1="277.40" y1="167.50" x2="281.60" y2="167.50" stroke="#000" stroke-width="1.1"/>
<line x1="277.40" y1="191.50" x2="281.60" y2="191.50" stroke="#000" stroke-width="1.1"/>
<line x1="208.50" y1="196.00" x2="208.50" y2="202.50" stroke="#000" stroke-width="1"/>
<line x1="206.40" y1="196.50" x2="210.60" y2="196.50" stroke="#000" stroke-width="1.1"/>
<line x1="206.40" y1="202.50" x2="210.60" y2="202.50" stroke="#000" stroke-width="1.1"/>
<line x1="223.50" y1="196.00" x2="223.50" y2="202.50" stroke="#000" stroke-width="1"/>
<line x1="221.40" y1="196.50" x2="225.60" y2="196.50" stroke="#000" stroke-width="1.1"/>
<line x1="221.40" y1="202.50" x2="225.60" y2="202.50" stroke="#000" stroke-width="1.1"/>
<line x1="230.50" y1="197.00" x2="230.50" y2="203.00" stroke="#000" stroke-width="1"/>
<line x1="228.40" y1="197.50" x2="232.60" y2="197.50" stroke="#000" stroke-width="1.1"/>
<line x1="228.40" y1="203.50" x2="232.60" y2="203.50" stroke="#000" stroke-width="1.1"/>
<line x1="237.50" y1="200.00" x2="237.50" y2="205.80" stroke="#000" stroke-width="1"/>
<line x1="235.40" y1="200.50" x2="239.60" y2="200.50" stroke="#000" stroke-width="1.1"/>
<line x1="235.40" y1="205.50" x2="239.60" y2="205.50" stroke="#000" stroke-width="1.1"/>
<line x1="244.50" y1="200.00" x2="244.50" y2="207.70" stroke="#000" stroke-width="1"/>
<line x1="242.40" y1="200.50" x2="246.60" y2="200.50" stroke="#000" stroke-width="1.1"/>
<line x1="242.40" y1="207.50" x2="246.60" y2="207.50" stroke="#000" stroke-width="1.1"/>
<line x1="251.50" y1="195.20" x2="251.50" y2="209.60" stroke="#000" stroke-width="1"/>
<line x1="249.40" y1="195.50" x2="253.60" y2="195.50" stroke="#000" stroke-width="1.1"/>
<line x1="249.40" y1="209.50" x2="253.60" y2="209.50" stroke="#000" stroke-width="1.1"/>
<line x1="258.50" y1="198.00" x2="258.50" y2="205.00" stroke="#000" stroke-width="1"/>
<line x1="256.40" y1="198.50" x2="260.60" y2="198.50" stroke="#000" stroke-width="1.1"/>
<line x1="256.40" y1="205.50" x2="260.60" y2="205.50" stroke="#000" stroke-width="1.1"/>
<line x1="279.50" y1="195.60" x2="279.50" y2="206.70" stroke="#000" stroke-width="1"/>
<line x1="277.40" y1="195.50" x2="281.60" y2="195.50" stroke="#000" stroke-width="1.1"/>
<line x1="277.40" y1="206.50" x2="281.60" y2="206.50" stroke="#000" stroke-width="1.1"/>
<polyline points="208.81,199.00 223.02,199.00 230.12,200.60 237.22,203.80 244.33,203.50 251.43,202.00 258.54,202.00 279.85,199.00" fill="none" stroke="#c20a32" stroke-width="1"/>
<polyline points="208.81,201.50 223.02,200.40 230.12,193.30 237.22,201.30 244.33,201.50 251.43,189.00 258.54,192.90 279.85,181.70" fill="none" stroke="#244a8e" stroke-width="1"/>
<circle cx="208.81" cy="199.00" r="1.9" fill="#c20a32"/>
<circle cx="223.02" cy="199.00" r="1.9" fill="#c20a32"/>
<circle cx="230.12" cy="200.60" r="1.9" fill="#c20a32"/>
<circle cx="237.22" cy="203.80" r="1.9" fill="#c20a32"/>
<circle cx="244.33" cy="203.50" r="1.9" fill="#c20a32"/>
<circle cx="251.43" cy="202.00" r="1.9" fill="#c20a32"/>
<circle cx="258.54" cy="202.00" r="1.9" fill="#c20a32"/>
<circle cx="279.85" cy="199.00" r="1.9" fill="#c20a32"/>
<rect x="207.11" y="199.80" width="3.4" height="3.4" fill="#244a8e"/>
<rect x="221.32" y="198.70" width="3.4" height="3.4" fill="#244a8e"/>
<rect x="228.42" y="191.60" width="3.4" height="3.4" fill="#244a8e"/>
<rect x="235.52" y="199.60" width="3.4" height="3.4" fill="#244a8e"/>
<rect x="242.63" y="199.80" width="3.4" height="3.4" fill="#244a8e"/>
<rect x="249.73" y="187.30" width="3.4" height="3.4" fill="#244a8e"/>
<rect x="256.84" y="191.20" width="3.4" height="3.4" fill="#244a8e"/>
<rect x="278.15" y="180.00" width="3.4" height="3.4" fill="#244a8e"/>
<circle cx="251.43" cy="163.80" r="0.8" fill="#3a3a3a"/>
<circle cx="255.94" cy="181.70" r="0.8" fill="#3a3a3a"/>
<circle cx="258.54" cy="181.70" r="0.8" fill="#3a3a3a"/>
<circle cx="261.14" cy="181.70" r="0.8" fill="#3a3a3a"/>
<circle cx="277.25" cy="164.40" r="0.8" fill="#3a3a3a"/>
<circle cx="279.85" cy="164.40" r="0.8" fill="#3a3a3a"/>
<circle cx="282.45" cy="164.40" r="0.8" fill="#3a3a3a"/>
<text x="240.60" y="147.20" font-size="10" text-anchor="middle" fill="#222" stroke="#222" stroke-width="0.15">Granulocytes</text>
<text transform="translate(172.13,190.60) rotate(-90)" x="0" y="0" font-size="9.8" text-anchor="middle" stroke="#222" stroke-width="0.15" textLength="63.70" lengthAdjust="spacingAndGlyphs">Granulocytes (G/L)</text>
<text x="221.50" y="236.20" font-size="9.8" text-anchor="start" fill="#222" stroke="#222" stroke-width="0.15" textLength="45.20" lengthAdjust="spacingAndGlyphs">Time (weeks)</text>
<line x1="291.00" y1="43.50" x2="302.00" y2="43.50" stroke="#c20a32" stroke-width="1"/>
<circle cx="296.5" cy="43.5" r="1.9" fill="#c20a32"/>
<text x="305.00" y="46.30" font-size="8" text-anchor="start" fill="#222" stroke="#222" stroke-width="0.15" textLength="32.00" lengthAdjust="spacingAndGlyphs">JAK2WT</text>
<line x1="291.00" y1="55.40" x2="302.00" y2="55.40" stroke="#244a8e" stroke-width="1"/>
<rect x="294.7" y="53.6" width="3.6" height="3.6" fill="#244a8e"/>
<text x="305.00" y="58.30" font-size="8" text-anchor="start" fill="#222" stroke="#222" stroke-width="0.15" textLength="42.70" lengthAdjust="spacingAndGlyphs">JAK2V617F</text>
<text x="413.60" y="56.30" font-size="8.5" text-anchor="middle" fill="#222" stroke="#222" stroke-width="0.15" textLength="32.30" lengthAdjust="spacingAndGlyphs"><tspan font-style="italic">JAK2</tspan>WT</text>
<text x="476.00" y="56.30" font-size="8.5" text-anchor="middle" fill="#222" stroke="#222" stroke-width="0.15" textLength="42.20" lengthAdjust="spacingAndGlyphs"><tspan font-style="italic">JAK2</tspan>V617F</text>
<linearGradient id="rg" x1="0" y1="0" x2="0" y2="1"><stop offset="0" stop-color="#b9c1c6"/><stop offset="0.5" stop-color="#c9d1d5"/><stop offset="1" stop-color="#c2cacf"/></linearGradient>
<rect x="383.8" y="61.8" width="58.6" height="53.4" fill="#e2e2de" stroke="#1a1a1a" stroke-width="1.6"/>
<rect x="384.6" y="86.2" width="57" height="28.2" fill="url(#rg)"/>
<rect x="384.6" y="85.8" width="57" height="1.3" fill="#707a80"/>
<line x1="385.99" y1="86.80" x2="385.99" y2="95.10" stroke="#6c767b" stroke-width="0.8"/>
<line x1="388.30" y1="86.80" x2="388.30" y2="100.80" stroke="#6c767b" stroke-width="0.8"/>
<line x1="390.61" y1="86.80" x2="390.61" y2="95.10" stroke="#6c767b" stroke-width="0.8"/>
<line x1="392.92" y1="86.80" x2="392.92" y2="95.10" stroke="#6c767b" stroke-width="0.8"/>
<line x1="395.23" y1="86.80" x2="395.23" y2="95.10" stroke="#6c767b" stroke-width="0.8"/>
<line x1="397.54" y1="86.80" x2="397.54" y2="95.10" stroke="#6c767b" stroke-width="0.8"/>
<line x1="399.85" y1="86.80" x2="399.85" y2="98.10" stroke="#6c767b" stroke-width="0.8"/>
<line x1="402.16" y1="86.80" x2="402.16" y2="95.10" stroke="#6c767b" stroke-width="0.8"/>
<line x1="404.47" y1="86.80" x2="404.47" y2="95.10" stroke="#6c767b" stroke-width="0.8"/>
<line x1="406.78" y1="86.80" x2="406.78" y2="95.10" stroke="#6c767b" stroke-width="0.8"/>
<line x1="409.09" y1="86.80" x2="409.09" y2="95.10" stroke="#6c767b" stroke-width="0.8"/>
<line x1="411.40" y1="86.80" x2="411.40" y2="100.80" stroke="#6c767b" stroke-width="0.8"/>
<line x1="413.71" y1="86.80" x2="413.71" y2="95.10" stroke="#6c767b" stroke-width="0.8"/>
<line x1="416.02" y1="86.80" x2="416.02" y2="95.10" stroke="#6c767b" stroke-width="0.8"/>
<line x1="418.33" y1="86.80" x2="418.33" y2="95.10" stroke="#6c767b" stroke-width="0.8"/>
<line x1="420.64" y1="86.80" x2="420.64" y2="95.10" stroke="#6c767b" stroke-width="0.8"/>
<line x1="422.95" y1="86.80" x2="422.95" y2="98.10" stroke="#6c767b" stroke-width="0.8"/>
<line x1="425.26" y1="86.80" x2="425.26" y2="95.10" stroke="#6c767b" stroke-width="0.8"/>
<line x1="427.57" y1="86.80" x2="427.57" y2="95.10" stroke="#6c767b" stroke-width="0.8"/>
<line x1="429.88" y1="86.80" x2="429.88" y2="95.10" stroke="#6c767b" stroke-width="0.8"/>
<line x1="432.19" y1="86.80" x2="432.19" y2="95.10" stroke="#6c767b" stroke-width="0.8"/>
<line x1="434.50" y1="86.80" x2="434.50" y2="100.80" stroke="#6c767b" stroke-width="0.8"/>
<line x1="436.81" y1="86.80" x2="436.81" y2="95.10" stroke="#6c767b" stroke-width="0.8"/>
<line x1="439.12" y1="86.80" x2="439.12" y2="95.10" stroke="#6c767b" stroke-width="0.8"/>
<line x1="441.43" y1="86.80" x2="441.43" y2="95.10" stroke="#6c767b" stroke-width="0.8"/>
<text x="388.30" y="111.60" font-size="12" text-anchor="middle" fill="#2e3438" stroke="#2e3438" stroke-width="0.15" textLength="6.01" lengthAdjust="spacingAndGlyphs">0</text>
<text x="411.60" y="111.60" font-size="12" text-anchor="middle" fill="#2e3438" stroke="#2e3438" stroke-width="0.15" textLength="6.01" lengthAdjust="spacingAndGlyphs">1</text>
<text x="434.70" y="111.60" font-size="12" text-anchor="middle" fill="#2e3438" stroke="#2e3438" stroke-width="0.15" textLength="6.01" lengthAdjust="spacingAndGlyphs">2</text>
<path d="M388.10,74.80 C388.13,73.80 388.80,72.38 389.50,71.50 C390.20,70.62 391.13,69.88 392.30,69.50 C393.47,69.12 395.13,69.08 396.50,69.20 C397.87,69.32 399.22,69.87 400.50,70.20 C401.78,70.53 402.55,70.97 404.20,71.20 C405.85,71.43 408.22,71.57 410.40,71.60 C412.58,71.63 415.65,71.13 417.30,71.40 C418.95,71.67 419.85,72.57 420.30,73.20 C420.75,73.83 420.75,74.53 420.00,75.20 C419.25,75.87 417.40,76.55 415.80,77.20 C414.20,77.85 412.33,78.55 410.40,79.10 C408.47,79.65 406.25,80.25 404.20,80.50 C402.15,80.75 400.02,80.77 398.10,80.60 C396.18,80.43 394.17,80.02 392.70,79.50 C391.23,78.98 390.07,78.28 389.30,77.50 C388.53,76.72 388.07,75.80 388.10,74.80 Z" fill="#0d090b"/>
<path d="M394.5,71.2 l1,0 M398,71.8 l1.5,0.2 M403,72.8 l1.2,0.2 M410,73.2 l1.5,-0.2" stroke="#bbb" stroke-width="0.7" fill="none"/>
<path d="M392,81.2 C398,82.6 405,82.3 410,81" stroke="#f2f2f2" stroke-width="1" fill="none"/>
<rect x="446.8" y="61.8" width="58.8" height="53.4" fill="#e0e0dd" stroke="#1a1a1a" stroke-width="1.6"/>
<rect x="447.6" y="88.7" width="57.2" height="25.7" fill="url(#rg)"/>
<rect x="447.6" y="88.3" width="57.2" height="1.3" fill="#707a80"/>
<line x1="448.99" y1="89.20" x2="448.99" y2="97.70" stroke="#6c767b" stroke-width="0.8"/>
<line x1="451.30" y1="89.20" x2="451.30" y2="102.70" stroke="#6c767b" stroke-width="0.8"/>
<line x1="453.61" y1="89.20" x2="453.61" y2="97.70" stroke="#6c767b" stroke-width="0.8"/>
<line x1="455.92" y1="89.20" x2="455.92" y2="97.70" stroke="#6c767b" stroke-width="0.8"/>
<line x1="458.23" y1="89.20" x2="458.23" y2="97.70" stroke="#6c767b" stroke-width="0.8"/>
<line x1="460.54" y1="89.20" x2="460.54" y2="97.70" stroke="#6c767b" stroke-width="0.8"/>
<line x1="462.85" y1="89.20" x2="462.85" y2="100.70" stroke="#6c767b" stroke-width="0.8"/>
<line x1="465.16" y1="89.20" x2="465.16" y2="97.70" stroke="#6c767b" stroke-width="0.8"/>
<line x1="467.47" y1="89.20" x2="467.47" y2="97.70" stroke="#6c767b" stroke-width="0.8"/>
<line x1="469.78" y1="89.20" x2="469.78" y2="97.70" stroke="#6c767b" stroke-width="0.8"/>
<line x1="472.09" y1="89.20" x2="472.09" y2="97.70" stroke="#6c767b" stroke-width="0.8"/>
<line x1="474.40" y1="89.20" x2="474.40" y2="102.70" stroke="#6c767b" stroke-width="0.8"/>
<line x1="476.71" y1="89.20" x2="476.71" y2="97.70" stroke="#6c767b" stroke-width="0.8"/>
<line x1="479.02" y1="89.20" x2="479.02" y2="97.70" stroke="#6c767b" stroke-width="0.8"/>
<line x1="481.33" y1="89.20" x2="481.33" y2="97.70" stroke="#6c767b" stroke-width="0.8"/>
<line x1="483.64" y1="89.20" x2="483.64" y2="97.70" stroke="#6c767b" stroke-width="0.8"/>
<line x1="485.95" y1="89.20" x2="485.95" y2="100.70" stroke="#6c767b" stroke-width="0.8"/>
<line x1="488.26" y1="89.20" x2="488.26" y2="97.70" stroke="#6c767b" stroke-width="0.8"/>
<line x1="490.57" y1="89.20" x2="490.57" y2="97.70" stroke="#6c767b" stroke-width="0.8"/>
<line x1="492.88" y1="89.20" x2="492.88" y2="97.70" stroke="#6c767b" stroke-width="0.8"/>
<line x1="495.19" y1="89.20" x2="495.19" y2="97.70" stroke="#6c767b" stroke-width="0.8"/>
<line x1="497.50" y1="89.20" x2="497.50" y2="102.70" stroke="#6c767b" stroke-width="0.8"/>
<line x1="499.81" y1="89.20" x2="499.81" y2="97.70" stroke="#6c767b" stroke-width="0.8"/>
<line x1="502.12" y1="89.20" x2="502.12" y2="97.70" stroke="#6c767b" stroke-width="0.8"/>
<line x1="504.43" y1="89.20" x2="504.43" y2="97.70" stroke="#6c767b" stroke-width="0.8"/>
<text x="451.40" y="113.20" font-size="11.5" text-anchor="middle" fill="#2e3438" stroke="#2e3438" stroke-width="0.15" textLength="5.76" lengthAdjust="spacingAndGlyphs">0</text>
<text x="474.90" y="113.20" font-size="11.5" text-anchor="middle" fill="#2e3438" stroke="#2e3438" stroke-width="0.15" textLength="5.76" lengthAdjust="spacingAndGlyphs">1</text>
<text x="497.60" y="113.20" font-size="11.5" text-anchor="middle" fill="#2e3438" stroke="#2e3438" stroke-width="0.15" textLength="5.76" lengthAdjust="spacingAndGlyphs">2</text>
<path d="M453.20,75.50 C453.08,74.18 454.42,72.03 455.80,70.70 C457.18,69.37 459.58,68.30 461.50,67.50 C463.42,66.70 465.37,66.28 467.30,65.90 C469.23,65.52 471.17,65.37 473.10,65.20 C475.03,65.03 477.08,64.77 478.90,64.90 C480.72,65.03 482.32,65.52 484.00,66.00 C485.68,66.48 487.45,67.10 489.00,67.80 C490.55,68.50 491.88,69.30 493.30,70.20 C494.72,71.10 496.32,72.17 497.50,73.20 C498.68,74.23 499.62,75.18 500.40,76.40 C501.18,77.62 502.00,79.13 502.20,80.50 C502.40,81.87 502.07,83.65 501.60,84.60 C501.13,85.55 500.27,86.10 499.40,86.20 C498.53,86.30 497.38,85.87 496.40,85.20 C495.42,84.53 494.57,83.30 493.50,82.20 C492.43,81.10 491.38,79.67 490.00,78.60 C488.62,77.53 487.05,76.67 485.20,75.80 C483.35,74.93 480.92,73.78 478.90,73.40 C476.88,73.02 475.03,73.30 473.10,73.50 C471.17,73.70 469.23,73.98 467.30,74.60 C465.37,75.22 463.30,76.53 461.50,77.20 C459.70,77.87 457.88,78.88 456.50,78.60 C455.12,78.32 453.32,76.82 453.20,75.50 Z" fill="#160e12"/>
<path d="M480,79 C481,82 478,85 478.5,88" stroke="#666" stroke-width="0.4" fill="none"/>
<line x1="406.70" y1="145.80" x2="409.70" y2="145.80" stroke="#111" stroke-width="0.9"/>
<text x="403.30" y="149.00" font-size="9" text-anchor="end" fill="#222" stroke="#222" stroke-width="0.15" textLength="11.26" lengthAdjust="spacingAndGlyphs">0.4</text>
<line x1="406.70" y1="163.10" x2="409.70" y2="163.10" stroke="#111" stroke-width="0.9"/>
<text x="403.30" y="166.30" font-size="9" text-anchor="end" fill="#222" stroke="#222" stroke-width="0.15" textLength="11.26" lengthAdjust="spacingAndGlyphs">0.3</text>
<line x1="406.70" y1="180.30" x2="409.70" y2="180.30" stroke="#111" stroke-width="0.9"/>
<text x="403.30" y="183.50" font-size="9" text-anchor="end" fill="#222" stroke="#222" stroke-width="0.15" textLength="11.26" lengthAdjust="spacingAndGlyphs">0.2</text>
<line x1="406.70" y1="197.50" x2="409.70" y2="197.50" stroke="#111" stroke-width="0.9"/>
<text x="403.30" y="200.70" font-size="9" text-anchor="end" fill="#222" stroke="#222" stroke-width="0.15" textLength="11.26" lengthAdjust="spacingAndGlyphs">0.1</text>
<line x1="406.70" y1="214.00" x2="409.70" y2="214.00" stroke="#111" stroke-width="0.9"/>
<text x="403.30" y="217.20" font-size="9" text-anchor="end" fill="#222" stroke="#222" stroke-width="0.15" textLength="11.26" lengthAdjust="spacingAndGlyphs">0.0</text>
<rect x="418.5" y="203.2" width="34.2" height="10.2" fill="#e8c6ba"/>
<rect x="470" y="180.2" width="34.2" height="33.2" fill="#c8cce0"/>
<line x1="409.70" y1="142.00" x2="409.70" y2="214.60" stroke="#111" stroke-width="1.1"/>
<line x1="409.20" y1="214.00" x2="513.00" y2="214.00" stroke="#111" stroke-width="1.4"/>
<line x1="435.60" y1="213.90" x2="435.60" y2="217.00" stroke="#111" stroke-width="0.9"/>
<line x1="487.10" y1="213.90" x2="487.10" y2="217.00" stroke="#111" stroke-width="0.9"/>
<text x="435.00" y="228.80" font-size="8.5" text-anchor="middle" fill="#222" stroke="#222" stroke-width="0.15" textLength="32.40" lengthAdjust="spacingAndGlyphs"><tspan font-style="italic">JAK2</tspan>WT</text>
<text x="486.60" y="228.80" font-size="8.5" text-anchor="middle" fill="#222" stroke="#222" stroke-width="0.15" textLength="42.70" lengthAdjust="spacingAndGlyphs"><tspan font-style="italic">JAK2</tspan>V617F</text>
<text transform="translate(384.63,178.40) rotate(-90)" x="0" y="0" font-size="9.8" text-anchor="middle" stroke="#222" stroke-width="0.15" textLength="60.80" lengthAdjust="spacingAndGlyphs">Spleen weight (g)</text>
<line x1="435.40" y1="151.30" x2="487.00" y2="151.30" stroke="#222" stroke-width="0.9"/>
<line x1="435.40" y1="148.80" x2="435.40" y2="153.80" stroke="#222" stroke-width="0.9"/>
<line x1="487.00" y1="148.80" x2="487.00" y2="153.80" stroke="#222" stroke-width="0.9"/>
<circle cx="458.60" cy="148.60" r="0.8" fill="#3a3a3a"/>
<circle cx="461.20" cy="148.60" r="0.8" fill="#3a3a3a"/>
<circle cx="463.80" cy="148.60" r="0.8" fill="#3a3a3a"/>
<line x1="487.00" y1="169.20" x2="487.00" y2="191.30" stroke="#222" stroke-width="1"/>
<line x1="478.30" y1="169.20" x2="496.00" y2="169.20" stroke="#222" stroke-width="1"/>
<line x1="478.30" y1="191.30" x2="496.00" y2="191.30" stroke="#222" stroke-width="1"/>
<line x1="435.60" y1="201.30" x2="435.60" y2="205.20" stroke="#222" stroke-width="1"/>
<line x1="426.70" y1="201.30" x2="444.00" y2="201.30" stroke="#222" stroke-width="1"/>
<line x1="426.70" y1="205.20" x2="444.00" y2="205.20" stroke="#222" stroke-width="1"/>
<rect x="485.40" y="163.50" width="2.6" height="2.6" fill="#1d4a8f"/>
<rect x="489.90" y="168.70" width="2.6" height="2.6" fill="#1d4a8f"/>
<rect x="481.20" y="172.20" width="2.6" height="2.6" fill="#1d4a8f"/>
<rect x="485.60" y="172.20" width="2.6" height="2.6" fill="#1d4a8f"/>
<rect x="485.60" y="180.40" width="2.6" height="2.6" fill="#1d4a8f"/>
<rect x="481.20" y="184.10" width="2.6" height="2.6" fill="#1d4a8f"/>
<rect x="485.60" y="185.60" width="2.6" height="2.6" fill="#1d4a8f"/>
<rect x="489.90" y="184.10" width="2.6" height="2.6" fill="#1d4a8f"/>
<rect x="485.60" y="199.70" width="2.6" height="2.6" fill="#1d4a8f"/>
<circle cx="427.70" cy="201.00" r="1.3" fill="#c0143a"/>
<circle cx="431.00" cy="204.20" r="1.3" fill="#c0143a"/>
<circle cx="435.40" cy="204.20" r="1.3" fill="#c0143a"/>
<circle cx="439.20" cy="204.20" r="1.3" fill="#c0143a"/>
<circle cx="443.50" cy="202.70" r="1.3" fill="#c0143a"/>
<text x="124.00" y="280.60" font-size="9" text-anchor="middle" fill="#222" stroke="#222" stroke-width="0.15" textLength="13.79" lengthAdjust="spacingAndGlyphs">x10</text>
<text x="190.20" y="280.60" font-size="9" text-anchor="middle" fill="#222" stroke="#222" stroke-width="0.15" textLength="13.79" lengthAdjust="spacingAndGlyphs">x20</text>
<text x="256.60" y="280.60" font-size="9" text-anchor="middle" fill="#222" stroke="#222" stroke-width="0.15" textLength="13.79" lengthAdjust="spacingAndGlyphs">x40</text>
<text x="49.20" y="312.70" font-size="8.5" text-anchor="middle" fill="#222" stroke="#222" stroke-width="0.15" textLength="32.40" lengthAdjust="spacingAndGlyphs"><tspan font-style="italic">JAK2</tspan>WT</text>
<text x="49.30" y="357.60" font-size="8.5" text-anchor="middle" fill="#222" stroke="#222" stroke-width="0.15" textLength="44.00" lengthAdjust="spacingAndGlyphs"><tspan font-style="italic">JAK2</tspan>V617F</text>
<text x="49.30" y="367.60" font-size="8.5" text-anchor="middle" fill="#222" stroke="#222" stroke-width="0.15" textLength="53.60" lengthAdjust="spacingAndGlyphs">« early stage »</text>
<text x="49.30" y="407.50" font-size="8.5" text-anchor="middle" fill="#222" stroke="#222" stroke-width="0.15" textLength="44.00" lengthAdjust="spacingAndGlyphs"><tspan font-style="italic">JAK2</tspan>V617F</text>
<text x="49.50" y="417.50" font-size="8.5" text-anchor="middle" fill="#222" stroke="#222" stroke-width="0.15" textLength="71.50" lengthAdjust="spacingAndGlyphs">« advanced stage »</text>
<filter id="bl" x="-50%" y="-50%" width="200%" height="200%"><feGaussianBlur stdDeviation="3"/></filter>
<filter id="bls" x="-50%" y="-50%" width="200%" height="200%"><feGaussianBlur stdDeviation="1.3"/></filter>
<filter id="pf1" x="0" y="0" width="100%" height="100%" color-interpolation-filters="sRGB"><feTurbulence type="fractalNoise" baseFrequency="0.4" numOctaves="2" seed="8"/><feColorMatrix type="matrix" values="1.6 0 0 0 -0.30000000000000004  1.6 0 0 0 -0.30000000000000004  1.6 0 0 0 -0.30000000000000004  0 0 0 0 1"/><feComponentTransfer><feFuncR type="table" tableValues="0.345 0.416 0.486 0.557 0.643"/><feFuncG type="table" tableValues="0.235 0.275 0.322 0.369 0.439"/><feFuncB type="table" tableValues="0.478 0.518 0.549 0.580 0.620"/></feComponentTransfer></filter>
<filter id="pp1" x="0" y="0" width="100%" height="100%" color-interpolation-filters="sRGB"><feTurbulence type="fractalNoise" baseFrequency="0.5" numOctaves="2" seed="10"/><feColorMatrix type="matrix" values="0 0 0 0 0.690  0 0 0 0 0.314  0 0 0 0 0.431  0 8 0 0 -5.120"/></filter>
<clipPath id="c1"><rect x="92" y="285.4" width="64" height="48.3"/></clipPath>
<clipPath id="t1"><path d="M104.8,285.4 L144.5,285.4 C147,289 149.5,297 150.6,303.2 C151.6,309 151.8,314 151.6,316.6 C151.5,321 151.3,324 151.2,326 C150.8,329 150,330.5 149.2,331.5 C147.5,333 145.5,334 143.8,334.1 L137.8,334 C136.5,331.5 135.5,330 134.4,328.8 C133,327 131.5,325 130.4,323.4 C129,321 128,319.5 127,318 C125.5,316 124,314 122.3,311.9 C120,309.5 118.5,308 116.9,305.9 C115,303 113.5,300 112.2,297.8 C110,293.5 107.5,289 104.8,285.4 Z"/></clipPath>
<g clip-path="url(#c1)">
<rect x="92" y="285.4" width="64" height="48.3" fill="#f8f8fa"/>
<rect x="144" y="285.4" width="12" height="48.3" fill="#e2e5ee"/><path d="M93,296 c3,-1 5,1 8,-1 M95,309 c2,2 4,-1 6,1 c2,2 1,5 4,6 M99,322 c3,1 5,-2 8,0 c2,1 3,3 6,2 M106,329 c2,-1 4,1 7,0 M96,288 c2,1 4,0 6,1" stroke="#a8a0b8" stroke-width="0.35" fill="none"/>
<g clip-path="url(#t1)">
<rect x="92" y="285.4" width="64" height="48.3" filter="url(#pf1)"/>
<ellipse cx="117" cy="291" rx="5" ry="3.5" fill="#352c72" opacity="0.6" filter="url(#bls)"/>
<ellipse cx="122.5" cy="297" rx="5" ry="4.5" fill="#352c72" opacity="0.65" filter="url(#bls)"/>
<ellipse cx="131" cy="299.5" rx="5.5" ry="4.5" fill="#352c72" opacity="0.7" filter="url(#bls)"/>
<ellipse cx="136" cy="305" rx="4.5" ry="4.5" fill="#352c72" opacity="0.6" filter="url(#bls)"/>
<ellipse cx="127" cy="308" rx="4" ry="3.5" fill="#352c72" opacity="0.5" filter="url(#bls)"/>
<ellipse cx="141.5" cy="311" rx="5" ry="5" fill="#352c72" opacity="0.65" filter="url(#bls)"/>
<ellipse cx="132" cy="317" rx="4.5" ry="3.5" fill="#352c72" opacity="0.55" filter="url(#bls)"/>
<ellipse cx="144" cy="323.5" rx="5" ry="5" fill="#352c72" opacity="0.65" filter="url(#bls)"/>
<ellipse cx="139" cy="290.5" rx="5" ry="3.5" fill="#352c72" opacity="0.5" filter="url(#bls)"/>
<ellipse cx="146.5" cy="300.5" rx="3.5" ry="5" fill="#352c72" opacity="0.45" filter="url(#bls)"/>
<g><rect x="92" y="285.4" width="64" height="48.3" filter="url(#pp1)" opacity="0.5"/></g>
</g></g>
<filter id="pf2" x="0" y="0" width="100%" height="100%" color-interpolation-filters="sRGB"><feTurbulence type="fractalNoise" baseFrequency="0.5" numOctaves="2" seed="15"/><feColorMatrix type="matrix" values="2.0 0 0 0 -0.5  2.0 0 0 0 -0.5  2.0 0 0 0 -0.5  0 0 0 0 1"/><feComponentTransfer><feFuncR type="table" tableValues="0.345 0.455 0.557 0.667 0.800"/><feFuncG type="table" tableValues="0.235 0.329 0.424 0.533 0.690"/><feFuncB type="table" tableValues="0.518 0.620 0.682 0.753 0.839"/></feComponentTransfer></filter>
<filter id="pp2" x="0" y="0" width="100%" height="100%" color-interpolation-filters="sRGB"><feTurbulence type="fractalNoise" baseFrequency="0.55" numOctaves="2" seed="17"/><feColorMatrix type="matrix" values="0 0 0 0 0.800  0 0 0 0 0.439  0 0 0 0 0.573  0 8 0 0 -4.480"/></filter>
<filter id="pw2" x="0" y="0" width="100%" height="100%" color-interpolation-filters="sRGB"><feTurbulence type="fractalNoise" baseFrequency="0.6" numOctaves="2" seed="19"/><feColorMatrix type="matrix" values="0 0 0 0 0.886  0 0 0 0 0.812  0 0 0 0 0.910  0 0 8 0 -5.280"/></filter>
<clipPath id="c2"><rect x="157.5" y="285.4" width="64.2" height="48.3"/></clipPath>
<mask id="pm2" maskUnits="userSpaceOnUse" x="157.5" y="285.4" width="64.2" height="48.3"><rect x="157.5" y="285.4" width="64.2" height="48.3" fill="rgb(89,89,89)"/><ellipse cx="195" cy="308" rx="22" ry="15" fill="rgb(255,255,255)" filter="url(#bl)"/></mask>
<g clip-path="url(#c2)">
<rect x="157.5" y="285.4" width="64.2" height="48.3" fill="#8a64a4"/>

<g>
<rect x="157.5" y="285.4" width="64.2" height="48.3" filter="url(#pf2)"/>
<ellipse cx="167" cy="296" rx="12" ry="10" fill="#4a327c" opacity="0.75" filter="url(#bl)"/>
<ellipse cx="207" cy="327" rx="15" ry="7" fill="#56408a" opacity="0.5" filter="url(#bl)"/>
<ellipse cx="170" cy="330" rx="10" ry="5" fill="#56408a" opacity="0.4" filter="url(#bl)"/>
<g mask="url(#pm2)"><rect x="157.5" y="285.4" width="64.2" height="48.3" filter="url(#pp2)" opacity="0.9"/></g>
<g><rect x="157.5" y="285.4" width="64.2" height="48.3" filter="url(#pw2)" opacity="0.7"/></g>
</g></g>
<filter id="pf3" x="0" y="0" width="100%" height="100%" color-interpolation-filters="sRGB"><feTurbulence type="fractalNoise" baseFrequency="0.5" numOctaves="2" seed="22"/><feColorMatrix type="matrix" values="2.0 0 0 0 -0.5  2.0 0 0 0 -0.5  2.0 0 0 0 -0.5  0 0 0 0 1"/><feComponentTransfer><feFuncR type="table" tableValues="0.220 0.306 0.408 0.518 0.690"/><feFuncG type="table" tableValues="0.149 0.220 0.306 0.400 0.580"/><feFuncB type="table" tableValues="0.439 0.518 0.588 0.659 0.769"/></feComponentTransfer></filter>
<filter id="pp3" x="0" y="0" width="100%" height="100%" color-interpolation-filters="sRGB"><feTurbulence type="fractalNoise" baseFrequency="0.55" numOctaves="2" seed="24"/><feColorMatrix type="matrix" values="0 0 0 0 0.800  0 0 0 0 0.353  0 0 0 0 0.494  0 8 0 0 -4.440"/></filter>
<filter id="pw3" x="0" y="0" width="100%" height="100%" color-interpolation-filters="sRGB"><feTurbulence type="fractalNoise" baseFrequency="0.6" numOctaves="2" seed="26"/><feColorMatrix type="matrix" values="0 0 0 0 0.792  0 0 0 0 0.714  0 0 0 0 0.886  0 0 8 0 -5.200"/></filter>
<clipPath id="c3"><rect x="223" y="285.4" width="64" height="48.3"/></clipPath>
<mask id="pm3" maskUnits="userSpaceOnUse" x="223" y="285.4" width="64" height="48.3"><rect x="223" y="285.4" width="64" height="48.3" fill="rgb(63,63,63)"/><ellipse cx="256" cy="292" rx="38" ry="11" fill="rgb(255,255,255)" filter="url(#bl)"/><ellipse cx="276" cy="318" rx="12" ry="14" fill="rgb(153,153,153)" filter="url(#bl)"/></mask>
<mask id="wm3" maskUnits="userSpaceOnUse" x="223" y="285.4" width="64" height="48.3"><rect x="223" y="285.4" width="64" height="48.3" fill="rgb(102,102,102)"/><ellipse cx="273" cy="318" rx="14" ry="14" fill="rgb(255,255,255)" filter="url(#bl)"/></mask>
<g clip-path="url(#c3)">
<rect x="223" y="285.4" width="64" height="48.3" fill="#6e5090"/>

<g>
<rect x="223" y="285.4" width="64" height="48.3" filter="url(#pf3)"/>
<ellipse cx="241" cy="321" rx="20" ry="13" fill="#30226a" opacity="0.8" filter="url(#bl)"/>
<ellipse cx="256" cy="292" rx="34" ry="9" fill="#a0587e" opacity="0.4" filter="url(#bl)"/>
<g mask="url(#pm3)"><rect x="223" y="285.4" width="64" height="48.3" filter="url(#pp3)" opacity="0.9"/></g>
<g mask="url(#wm3)"><rect x="223" y="285.4" width="64" height="48.3" filter="url(#pw3)" opacity="0.7"/></g>
</g></g>
<filter id="pf4" x="0" y="0" width="100%" height="100%" color-interpolation-filters="sRGB"><feTurbulence type="fractalNoise" baseFrequency="0.45" numOctaves="2" seed="29"/><feColorMatrix type="matrix" values="1.6 0 0 0 -0.30000000000000004  1.6 0 0 0 -0.30000000000000004  1.6 0 0 0 -0.30000000000000004  0 0 0 0 1"/><feComponentTransfer><feFuncR type="table" tableValues="0.533 0.596 0.659 0.722 0.792"/><feFuncG type="table" tableValues="0.408 0.471 0.533 0.596 0.690"/><feFuncB type="table" tableValues="0.659 0.698 0.737 0.776 0.824"/></feComponentTransfer></filter>
<filter id="pp4" x="0" y="0" width="100%" height="100%" color-interpolation-filters="sRGB"><feTurbulence type="fractalNoise" baseFrequency="0.5" numOctaves="2" seed="31"/><feColorMatrix type="matrix" values="0 0 0 0 0.753  0 0 0 0 0.478  0 0 0 0 0.659  0 8 0 0 -5.120"/></filter>
<clipPath id="c4"><rect x="92" y="335" width="64" height="47.7"/></clipPath>
<clipPath id="t4"><path d="M92,335 L133,335 C137,336 140,338 142.5,340 C145.5,342 147.5,343.5 149.2,345.5 C151,347.8 152.5,350 153.3,352.2 C154.3,355 154.6,357 154.6,358.9 C154.6,362 154,364.5 153.3,367 C152,370 150.8,372 149.2,373.7 C147,376 145,377.8 142.5,379.1 C140,380.5 137,381.4 134.4,381.8 C131,382.3 127,382.6 123.6,382.5 C119,382.4 116,382 112.9,381.1 C109.5,379.8 107,378.2 104.8,376.4 C102.5,374.5 100.5,372.7 98.1,371 C96,369.6 94,368.5 92,367.7 Z"/></clipPath>
<g clip-path="url(#c4)">
<rect x="92" y="335" width="64" height="47.7" fill="#f8f8fb"/>

<g clip-path="url(#t4)">
<rect x="92" y="335" width="64" height="47.7" filter="url(#pf4)"/>
<ellipse cx="100" cy="346" rx="5" ry="5" fill="#7060a8" opacity="0.35" filter="url(#bls)"/>
<ellipse cx="116" cy="351" rx="4" ry="5.5" fill="#7060a8" opacity="0.35" filter="url(#bls)"/>
<ellipse cx="131" cy="354" rx="7" ry="6" fill="#7060aa" opacity="0.5" filter="url(#bl)"/>
<ellipse cx="122" cy="364" rx="5" ry="4" fill="#7060a8" opacity="0.3" filter="url(#bls)"/>
<g><rect x="92" y="335" width="64" height="47.7" filter="url(#pp4)" opacity="0.5"/></g>
</g></g>
<filter id="pf5" x="0" y="0" width="100%" height="100%" color-interpolation-filters="sRGB"><feTurbulence type="fractalNoise" baseFrequency="0.5" numOctaves="2" seed="36"/><feColorMatrix type="matrix" values="2.0 0 0 0 -0.5  2.0 0 0 0 -0.5  2.0 0 0 0 -0.5  0 0 0 0 1"/><feComponentTransfer><feFuncR type="table" tableValues="0.369 0.463 0.557 0.659 0.784"/><feFuncG type="table" tableValues="0.259 0.353 0.447 0.549 0.690"/><feFuncB type="table" tableValues="0.533 0.612 0.682 0.745 0.839"/></feComponentTransfer></filter>
<filter id="pp5" x="0" y="0" width="100%" height="100%" color-interpolation-filters="sRGB"><feTurbulence type="fractalNoise" baseFrequency="0.55" numOctaves="2" seed="38"/><feColorMatrix type="matrix" values="0 0 0 0 0.800  0 0 0 0 0.471  0 0 0 0 0.596  0 8 0 0 -4.520"/></filter>
<filter id="pw5" x="0" y="0" width="100%" height="100%" color-interpolation-filters="sRGB"><feTurbulence type="fractalNoise" baseFrequency="0.6" numOctaves="2" seed="40"/><feColorMatrix type="matrix" values="0 0 0 0 0.902  0 0 0 0 0.847  0 0 0 0 0.933  0 0 8 0 -5.240"/></filter>
<clipPath id="c5"><rect x="157.5" y="335" width="64.2" height="47.7"/></clipPath>
<mask id="pm5" maskUnits="userSpaceOnUse" x="157.5" y="335" width="64.2" height="47.7"><rect x="157.5" y="335" width="64.2" height="47.7" fill="rgb(127,127,127)"/><ellipse cx="205" cy="350" rx="18" ry="12" fill="rgb(255,255,255)" filter="url(#bl)"/><ellipse cx="170" cy="378" rx="12" ry="6" fill="rgb(229,229,229)" filter="url(#bl)"/></mask>
<g clip-path="url(#c5)">
<rect x="157.5" y="335" width="64.2" height="47.7" fill="#8c6aa6"/>

<g>
<rect x="157.5" y="335" width="64.2" height="47.7" filter="url(#pf5)"/>
<ellipse cx="200" cy="366" rx="16" ry="12" fill="#6e5498" opacity="0.45" filter="url(#bl)"/>
<ellipse cx="180" cy="370" rx="8" ry="10" fill="#6a5096" opacity="0.4" filter="url(#bl)"/>
<ellipse cx="214" cy="350" rx="8" ry="12" fill="#b07aa0" opacity="0.3" filter="url(#bl)"/>
<g mask="url(#pm5)"><rect x="157.5" y="335" width="64.2" height="47.7" filter="url(#pp5)" opacity="0.85"/></g>
<g><rect x="157.5" y="335" width="64.2" height="47.7" filter="url(#pw5)" opacity="0.75"/></g>
</g></g>
<path d="M181.5,335 L178.5,352" stroke="#eee4f2" stroke-width="1.3" opacity="0.8" clip-path="url(#c5)"/>
<filter id="pf6" x="0" y="0" width="100%" height="100%" color-interpolation-filters="sRGB"><feTurbulence type="fractalNoise" baseFrequency="0.55" numOctaves="2" seed="43"/><feColorMatrix type="matrix" values="2.0 0 0 0 -0.5  2.0 0 0 0 -0.5  2.0 0 0 0 -0.5  0 0 0 0 1"/><feComponentTransfer><feFuncR type="table" tableValues="0.165 0.235 0.322 0.416 0.565"/><feFuncG type="table" tableValues="0.125 0.196 0.275 0.369 0.502"/><feFuncB type="table" tableValues="0.251 0.345 0.424 0.518 0.643"/></feComponentTransfer></filter>
<filter id="pp6" x="0" y="0" width="100%" height="100%" color-interpolation-filters="sRGB"><feTurbulence type="fractalNoise" baseFrequency="0.5" numOctaves="2" seed="45"/><feColorMatrix type="matrix" values="0 0 0 0 0.753  0 0 0 0 0.314  0 0 0 0 0.408  0 8 0 0 -4.480"/></filter>
<filter id="pw6" x="0" y="0" width="100%" height="100%" color-interpolation-filters="sRGB"><feTurbulence type="fractalNoise" baseFrequency="0.6" numOctaves="2" seed="47"/><feColorMatrix type="matrix" values="0 0 0 0 0.659  0 0 0 0 0.604  0 0 0 0 0.753  0 0 8 0 -5.360"/></filter>
<clipPath id="c6"><rect x="223" y="335" width="64" height="47.7"/></clipPath>
<mask id="pm6" maskUnits="userSpaceOnUse" x="223" y="335" width="64" height="47.7"><rect x="223" y="335" width="64" height="47.7" fill="rgb(38,38,38)"/><ellipse cx="244" cy="352" rx="26" ry="11" fill="rgb(255,255,255)" filter="url(#bl)"/><ellipse cx="262" cy="340" rx="12" ry="5" fill="rgb(178,178,178)" filter="url(#bl)"/></mask>
<g clip-path="url(#c6)">
<rect x="223" y="335" width="64" height="47.7" fill="#4e4268"/>

<g>
<rect x="223" y="335" width="64" height="47.7" filter="url(#pf6)"/>
<ellipse cx="270" cy="342" rx="14" ry="8" fill="#30284c" opacity="0.6" filter="url(#bl)"/>
<ellipse cx="246" cy="356" rx="22" ry="9" fill="#7a4262" opacity="0.35" filter="url(#bl)"/>
<ellipse cx="236" cy="374" rx="10" ry="6" fill="#7a6e98" opacity="0.45" filter="url(#bl)"/>
<g mask="url(#pm6)"><rect x="223" y="335" width="64" height="47.7" filter="url(#pp6)" opacity="0.85"/></g>
<g><rect x="223" y="335" width="64" height="47.7" filter="url(#pw6)" opacity="0.55"/></g>
</g></g>
<filter id="pf7" x="0" y="0" width="100%" height="100%" color-interpolation-filters="sRGB"><feTurbulence type="fractalNoise" baseFrequency="0.45" numOctaves="2" seed="50"/><feColorMatrix type="matrix" values="1.6 0 0 0 -0.30000000000000004  1.6 0 0 0 -0.30000000000000004  1.6 0 0 0 -0.30000000000000004  0 0 0 0 1"/><feComponentTransfer><feFuncR type="table" tableValues="0.275 0.337 0.400 0.471 0.580"/><feFuncG type="table" tableValues="0.204 0.259 0.314 0.369 0.471"/><feFuncB type="table" tableValues="0.463 0.518 0.565 0.604 0.682"/></feComponentTransfer></filter>
<filter id="pp7" x="0" y="0" width="100%" height="100%" color-interpolation-filters="sRGB"><feTurbulence type="fractalNoise" baseFrequency="0.5" numOctaves="2" seed="52"/><feColorMatrix type="matrix" values="0 0 0 0 0.690  0 0 0 0 0.353  0 0 0 0 0.502  0 8 0 0 -5.120"/></filter>
<clipPath id="c7"><rect x="92" y="384" width="64" height="48.3"/></clipPath>
<clipPath id="t7"><path d="M92,384 L130.4,384 C133.5,385.5 136,387 138.5,389.1 C141,391 143.3,393.5 145.2,395.8 C147.3,398.5 149.2,401 150.6,403.9 C152,406.8 152.8,409.5 153.3,412 C153.8,415 154,417.5 153.9,420 C153.8,422.5 153,425 151.9,426.8 C150.5,428.6 148.5,429.6 146.5,430.1 C144.5,430.6 142,430.9 139.8,430.8 C136.5,430 133.5,428.8 130.4,427.4 C127,425.6 124,423.6 121,421.4 C118,419.1 115.5,416.8 112.9,414.6 C110,412.3 107.5,411 104.8,409.9 C102,408.8 99.5,407.8 96.7,407.2 C95,406.9 93.5,406.8 92,406.8 Z"/></clipPath>
<g clip-path="url(#c7)">
<rect x="92" y="384" width="64" height="48.3" fill="#f8f8fb"/>

<g clip-path="url(#t7)">
<rect x="92" y="384" width="64" height="48.3" filter="url(#pf7)"/>
<g><rect x="92" y="384" width="64" height="48.3" filter="url(#pp7)" opacity="0.6"/></g>
</g></g>
<filter id="pf8" x="0" y="0" width="100%" height="100%" color-interpolation-filters="sRGB"><feTurbulence type="fractalNoise" baseFrequency="0.45" numOctaves="2" seed="57"/><feColorMatrix type="matrix" values="2.0 0 0 0 -0.5  2.0 0 0 0 -0.5  2.0 0 0 0 -0.5  0 0 0 0 1"/><feComponentTransfer><feFuncR type="table" tableValues="0.204 0.290 0.384 0.486 0.643"/><feFuncG type="table" tableValues="0.133 0.196 0.275 0.353 0.486"/><feFuncB type="table" tableValues="0.384 0.463 0.533 0.596 0.690"/></feComponentTransfer></filter>
<filter id="pp8" x="0" y="0" width="100%" height="100%" color-interpolation-filters="sRGB"><feTurbulence type="fractalNoise" baseFrequency="0.4" numOctaves="2" seed="59"/><feColorMatrix type="matrix" values="0 0 0 0 0.753  0 0 0 0 0.345  0 0 0 0 0.494  0 8 0 0 -4.800"/></filter>
<filter id="pw8" x="0" y="0" width="100%" height="100%" color-interpolation-filters="sRGB"><feTurbulence type="fractalNoise" baseFrequency="0.6" numOctaves="2" seed="61"/><feColorMatrix type="matrix" values="0 0 0 0 0.722  0 0 0 0 0.612  0 0 0 0 0.784  0 0 8 0 -5.440"/></filter>
<clipPath id="c8"><rect x="157.5" y="384" width="64.2" height="48.3"/></clipPath>
<g clip-path="url(#c8)">
<rect x="157.5" y="384" width="64.2" height="48.3" fill="#5e4080"/>

<g>
<rect x="157.5" y="384" width="64.2" height="48.3" filter="url(#pf8)"/>
<ellipse cx="200" cy="410" rx="12" ry="10" fill="#3a2a70" opacity="0.6" filter="url(#bl)"/>
<g><rect x="157.5" y="384" width="64.2" height="48.3" filter="url(#pp8)" opacity="0.6"/></g>
<g><rect x="157.5" y="384" width="64.2" height="48.3" filter="url(#pw8)" opacity="0.5"/></g>
</g></g>
<filter id="bl6" x="-10%" y="-10%" width="120%" height="120%"><feGaussianBlur stdDeviation="0.6"/></filter>
<g clip-path="url(#c8)" filter="url(#bl6)" stroke="#c0607c" stroke-width="1.1" fill="none" opacity="0.5"><path d="M158,394 C166,398 176,404 184,410 C190,416 195,424 199,432"/><path d="M172,384 C178,392 186,398 194,402 C202,408 210,414 220,420"/><path d="M206,384 C203,392 202,400 206,406 C210,410 216,410 221,408"/><path d="M158,420 C166,419 174,418 181,421 C185,424 188,428 190,432"/><path d="M184,410 C180,404 178,398 170,392"/><path d="M194,402 C192,394 194,388 198,384"/></g>
<filter id="pf9" x="0" y="0" width="100%" height="100%" color-interpolation-filters="sRGB"><feTurbulence type="fractalNoise" baseFrequency="0.5" numOctaves="2" seed="64"/><feColorMatrix type="matrix" values="2.0 0 0 0 -0.5  2.0 0 0 0 -0.5  2.0 0 0 0 -0.5  0 0 0 0 1"/><feComponentTransfer><feFuncR type="table" tableValues="0.212 0.298 0.400 0.510 0.690"/><feFuncG type="table" tableValues="0.149 0.220 0.306 0.408 0.604"/><feFuncB type="table" tableValues="0.431 0.518 0.588 0.659 0.784"/></feComponentTransfer></filter>
<filter id="pp9" x="0" y="0" width="100%" height="100%" color-interpolation-filters="sRGB"><feTurbulence type="fractalNoise" baseFrequency="0.55" numOctaves="2" seed="66"/><feColorMatrix type="matrix" values="0 0 0 0 0.722  0 0 0 0 0.345  0 0 0 0 0.494  0 8 0 0 -4.960"/></filter>
<filter id="pw9" x="0" y="0" width="100%" height="100%" color-interpolation-filters="sRGB"><feTurbulence type="fractalNoise" baseFrequency="0.6" numOctaves="2" seed="68"/><feColorMatrix type="matrix" values="0 0 0 0 0.769  0 0 0 0 0.706  0 0 0 0 0.878  0 0 8 0 -5.240"/></filter>
<clipPath id="c9"><rect x="223" y="384" width="64" height="48.3"/></clipPath>
<g clip-path="url(#c9)">
<rect x="223" y="384" width="64" height="48.3" fill="#6a4e96"/>

<g>
<rect x="223" y="384" width="64" height="48.3" filter="url(#pf9)"/>
<ellipse cx="265" cy="415" rx="14" ry="12" fill="#3a2c7a" opacity="0.5" filter="url(#bl)"/>
<g><rect x="223" y="384" width="64" height="48.3" filter="url(#pp9)" opacity="0.7"/></g>
<g><rect x="223" y="384" width="64" height="48.3" filter="url(#pw9)" opacity="0.7"/></g>
</g></g>
<g clip-path="url(#c9)" fill="#9a86c0" stroke="#c8b8e0" stroke-width="0.7" opacity="0.6"><ellipse cx="239.5" cy="399" rx="3.2" ry="3.8"/><ellipse cx="249" cy="390.5" rx="2.6" ry="2.8"/><ellipse cx="284" cy="421" rx="3.4" ry="3.8"/><ellipse cx="232" cy="410" rx="2" ry="2"/><ellipse cx="266" cy="402" rx="2.2" ry="2.4"/></g>
<line x1="346.20" y1="270.00" x2="346.20" y2="442.50" stroke="#111" stroke-width="1.1"/>
<line x1="345.70" y1="442.00" x2="508.00" y2="442.00" stroke="#111" stroke-width="1.1"/>
<line x1="342.70" y1="434.50" x2="346.20" y2="434.50" stroke="#111" stroke-width="0.8"/>
<text x="339.70" y="437.70" font-size="9" text-anchor="end" fill="#222" stroke="#222" stroke-width="0.15" textLength="11.26" lengthAdjust="spacingAndGlyphs">0.0</text>
<line x1="344.20" y1="428.60" x2="346.20" y2="428.60" stroke="#111" stroke-width="0.8"/>
<line x1="344.20" y1="422.70" x2="346.20" y2="422.70" stroke="#111" stroke-width="0.8"/>
<line x1="344.20" y1="416.80" x2="346.20" y2="416.80" stroke="#111" stroke-width="0.8"/>
<line x1="344.20" y1="410.90" x2="346.20" y2="410.90" stroke="#111" stroke-width="0.8"/>
<line x1="342.70" y1="405.00" x2="346.20" y2="405.00" stroke="#111" stroke-width="0.8"/>
<text x="339.70" y="408.20" font-size="9" text-anchor="end" fill="#222" stroke="#222" stroke-width="0.15" textLength="11.26" lengthAdjust="spacingAndGlyphs">1.0</text>
<line x1="344.20" y1="399.10" x2="346.20" y2="399.10" stroke="#111" stroke-width="0.8"/>
<line x1="344.20" y1="393.20" x2="346.20" y2="393.20" stroke="#111" stroke-width="0.8"/>
<line x1="344.20" y1="387.30" x2="346.20" y2="387.30" stroke="#111" stroke-width="0.8"/>
<line x1="344.20" y1="381.40" x2="346.20" y2="381.40" stroke="#111" stroke-width="0.8"/>
<line x1="342.70" y1="375.50" x2="346.20" y2="375.50" stroke="#111" stroke-width="0.8"/>
<text x="339.70" y="378.70" font-size="9" text-anchor="end" fill="#222" stroke="#222" stroke-width="0.15" textLength="11.26" lengthAdjust="spacingAndGlyphs">2.0</text>
<line x1="344.20" y1="369.60" x2="346.20" y2="369.60" stroke="#111" stroke-width="0.8"/>
<line x1="344.20" y1="363.70" x2="346.20" y2="363.70" stroke="#111" stroke-width="0.8"/>
<line x1="344.20" y1="357.80" x2="346.20" y2="357.80" stroke="#111" stroke-width="0.8"/>
<line x1="344.20" y1="351.90" x2="346.20" y2="351.90" stroke="#111" stroke-width="0.8"/>
<line x1="342.70" y1="346.00" x2="346.20" y2="346.00" stroke="#111" stroke-width="0.8"/>
<text x="339.70" y="349.20" font-size="9" text-anchor="end" fill="#222" stroke="#222" stroke-width="0.15" textLength="11.26" lengthAdjust="spacingAndGlyphs">3.0</text>
<line x1="344.20" y1="340.10" x2="346.20" y2="340.10" stroke="#111" stroke-width="0.8"/>
<line x1="344.20" y1="334.20" x2="346.20" y2="334.20" stroke="#111" stroke-width="0.8"/>
<line x1="344.20" y1="328.30" x2="346.20" y2="328.30" stroke="#111" stroke-width="0.8"/>
<line x1="344.20" y1="322.40" x2="346.20" y2="322.40" stroke="#111" stroke-width="0.8"/>
<line x1="342.70" y1="316.50" x2="346.20" y2="316.50" stroke="#111" stroke-width="0.8"/>
<text x="339.70" y="319.70" font-size="9" text-anchor="end" fill="#222" stroke="#222" stroke-width="0.15" textLength="11.26" lengthAdjust="spacingAndGlyphs">4.0</text>
<line x1="344.20" y1="310.60" x2="346.20" y2="310.60" stroke="#111" stroke-width="0.8"/>
<line x1="344.20" y1="304.70" x2="346.20" y2="304.70" stroke="#111" stroke-width="0.8"/>
<line x1="344.20" y1="298.80" x2="346.20" y2="298.80" stroke="#111" stroke-width="0.8"/>
<line x1="344.20" y1="292.90" x2="346.20" y2="292.90" stroke="#111" stroke-width="0.8"/>
<line x1="342.70" y1="287.00" x2="346.20" y2="287.00" stroke="#111" stroke-width="0.8"/>
<text x="339.70" y="290.20" font-size="9" text-anchor="end" fill="#222" stroke="#222" stroke-width="0.15" textLength="11.26" lengthAdjust="spacingAndGlyphs">5.0</text>
<line x1="344.20" y1="281.10" x2="346.20" y2="281.10" stroke="#111" stroke-width="0.8"/>
<line x1="344.20" y1="275.20" x2="346.20" y2="275.20" stroke="#111" stroke-width="0.8"/>
<line x1="352.03" y1="442.00" x2="352.03" y2="444.00" stroke="#111" stroke-width="0.8"/>
<line x1="357.10" y1="442.00" x2="357.10" y2="444.00" stroke="#111" stroke-width="0.8"/>
<line x1="362.17" y1="442.00" x2="362.17" y2="444.00" stroke="#111" stroke-width="0.8"/>
<line x1="367.24" y1="442.00" x2="367.24" y2="444.00" stroke="#111" stroke-width="0.8"/>
<line x1="372.31" y1="442.00" x2="372.31" y2="445.50" stroke="#111" stroke-width="0.8"/>
<text x="372.31" y="456.60" font-size="9" text-anchor="middle" fill="#222" stroke="#222" stroke-width="0.15" textLength="11.26" lengthAdjust="spacingAndGlyphs">0.3</text>
<line x1="377.38" y1="442.00" x2="377.38" y2="444.00" stroke="#111" stroke-width="0.8"/>
<line x1="382.45" y1="442.00" x2="382.45" y2="444.00" stroke="#111" stroke-width="0.8"/>
<line x1="387.52" y1="442.00" x2="387.52" y2="444.00" stroke="#111" stroke-width="0.8"/>
<line x1="392.59" y1="442.00" x2="392.59" y2="444.00" stroke="#111" stroke-width="0.8"/>
<line x1="397.66" y1="442.00" x2="397.66" y2="445.50" stroke="#111" stroke-width="0.8"/>
<text x="397.66" y="456.60" font-size="9" text-anchor="middle" fill="#222" stroke="#222" stroke-width="0.15" textLength="11.26" lengthAdjust="spacingAndGlyphs">0.8</text>
<line x1="402.73" y1="442.00" x2="402.73" y2="444.00" stroke="#111" stroke-width="0.8"/>
<line x1="407.80" y1="442.00" x2="407.80" y2="444.00" stroke="#111" stroke-width="0.8"/>
<line x1="412.87" y1="442.00" x2="412.87" y2="444.00" stroke="#111" stroke-width="0.8"/>
<line x1="417.94" y1="442.00" x2="417.94" y2="444.00" stroke="#111" stroke-width="0.8"/>
<line x1="423.01" y1="442.00" x2="423.01" y2="445.50" stroke="#111" stroke-width="0.8"/>
<text x="423.01" y="456.60" font-size="9" text-anchor="middle" fill="#222" stroke="#222" stroke-width="0.15" textLength="11.26" lengthAdjust="spacingAndGlyphs">1.3</text>
<line x1="428.08" y1="442.00" x2="428.08" y2="444.00" stroke="#111" stroke-width="0.8"/>
<line x1="433.15" y1="442.00" x2="433.15" y2="444.00" stroke="#111" stroke-width="0.8"/>
<line x1="438.22" y1="442.00" x2="438.22" y2="444.00" stroke="#111" stroke-width="0.8"/>
<line x1="443.29" y1="442.00" x2="443.29" y2="444.00" stroke="#111" stroke-width="0.8"/>
<line x1="448.36" y1="442.00" x2="448.36" y2="445.50" stroke="#111" stroke-width="0.8"/>
<text x="448.36" y="456.60" font-size="9" text-anchor="middle" fill="#222" stroke="#222" stroke-width="0.15" textLength="11.26" lengthAdjust="spacingAndGlyphs">1.8</text>
<line x1="453.43" y1="442.00" x2="453.43" y2="444.00" stroke="#111" stroke-width="0.8"/>
<line x1="458.50" y1="442.00" x2="458.50" y2="444.00" stroke="#111" stroke-width="0.8"/>
<line x1="463.57" y1="442.00" x2="463.57" y2="444.00" stroke="#111" stroke-width="0.8"/>
<line x1="468.64" y1="442.00" x2="468.64" y2="444.00" stroke="#111" stroke-width="0.8"/>
<line x1="473.71" y1="442.00" x2="473.71" y2="445.50" stroke="#111" stroke-width="0.8"/>
<text x="473.71" y="456.60" font-size="9" text-anchor="middle" fill="#222" stroke="#222" stroke-width="0.15" textLength="11.26" lengthAdjust="spacingAndGlyphs">2.3</text>
<line x1="478.78" y1="442.00" x2="478.78" y2="444.00" stroke="#111" stroke-width="0.8"/>
<line x1="483.85" y1="442.00" x2="483.85" y2="444.00" stroke="#111" stroke-width="0.8"/>
<line x1="488.92" y1="442.00" x2="488.92" y2="444.00" stroke="#111" stroke-width="0.8"/>
<line x1="493.99" y1="442.00" x2="493.99" y2="444.00" stroke="#111" stroke-width="0.8"/>
<line x1="499.06" y1="442.00" x2="499.06" y2="445.50" stroke="#111" stroke-width="0.8"/>
<text x="499.06" y="456.60" font-size="9" text-anchor="middle" fill="#222" stroke="#222" stroke-width="0.15" textLength="11.26" lengthAdjust="spacingAndGlyphs">2.8</text>
<line x1="504.13" y1="442.00" x2="504.13" y2="444.00" stroke="#111" stroke-width="0.8"/>
<text x="404.20" y="471.50" font-size="9.8" text-anchor="start" fill="#222" stroke="#222" stroke-width="0.15" textLength="45.40" lengthAdjust="spacingAndGlyphs">Allele <tspan font-style="italic" font-weight="bold">JAK2</tspan><tspan font-size="5.5" dy="-3.4" font-style="italic" font-weight="bold">WT</tspan></text>
<text transform="translate(322.6,356.3) rotate(-90)" font-size="9.8" text-anchor="middle" textLength="53.6" lengthAdjust="spacingAndGlyphs">Allele <tspan font-style="italic" font-weight="bold">JAK2</tspan><tspan font-size="5.5" dy="-3.4" font-style="italic" font-weight="bold">V617F</tspan></text>
<line x1="356.20" y1="435.20" x2="460.00" y2="275.20" stroke="#33508e" stroke-width="1"/>
<line x1="356.20" y1="435.20" x2="473.50" y2="287.70" stroke="#33508e" stroke-width="1"/>
<line x1="356.20" y1="435.20" x2="484.60" y2="302.70" stroke="#33508e" stroke-width="1"/>
<line x1="356.20" y1="435.20" x2="500.40" y2="329.00" stroke="#33508e" stroke-width="1"/>
<rect x="353.6" y="434" width="4" height="3.2" rx="1" fill="#b31039"/>
<rect x="457.30" y="277.40" width="5.30" height="1.8" fill="#b31039"/>
<rect x="458.55" y="277.20" width="2" height="2.2" fill="#2a3a78"/>
<rect x="468.80" y="289.80" width="6.00" height="1.8" fill="#b31039"/>
<rect x="470.40" y="289.60" width="2" height="2.2" fill="#2a3a78"/>
<rect x="481.20" y="303.50" width="4.40" height="1.8" fill="#b31039"/>
<rect x="482.00" y="303.30" width="2" height="2.2" fill="#2a3a78"/>
<circle cx="497.5" cy="327.7" r="1.2" fill="#b31039"/>
<ellipse cx="449" cy="281.5" rx="4.3" ry="6.3" transform="rotate(25 449 281.5)" fill="none" stroke="#b31039" stroke-width="1.25"/>
<ellipse cx="468.5" cy="330.2" rx="4.2" ry="4.8" transform="rotate(0 468.5 330.2)" fill="none" stroke="#b31039" stroke-width="1.25"/>
<ellipse cx="469.6" cy="334.9" rx="4.5" ry="5" transform="rotate(20 469.6 334.9)" fill="none" stroke="#b31039" stroke-width="1.25"/>
<ellipse cx="486.8" cy="341.6" rx="4.5" ry="5.5" transform="rotate(40 486.8 341.6)" fill="none" stroke="#b31039" stroke-width="1.25"/>
<ellipse cx="477.8" cy="344.3" rx="3.5" ry="3.5" transform="rotate(0 477.8 344.3)" fill="none" stroke="#b31039" stroke-width="1.25"/>
<ellipse cx="473.6" cy="353" rx="4.2" ry="4.0" transform="rotate(0 473.6 353)" fill="none" stroke="#b31039" stroke-width="1.25"/>
<ellipse cx="480" cy="352.5" rx="4.5" ry="5.5" transform="rotate(10 480 352.5)" fill="none" stroke="#b31039" stroke-width="1.25"/>
<ellipse cx="477" cy="348.5" rx="3.5" ry="4" transform="rotate(0 477 348.5)" fill="none" stroke="#b31039" stroke-width="1.25"/>
<ellipse cx="478.5" cy="346.2" rx="3.3" ry="3.0" transform="rotate(0 478.5 346.2)" fill="none" stroke="#b31039" stroke-width="1.25"/>
<path d="M447.5,278.4 L449.7,280.6 M449.7,278.4 L447.5,280.6" stroke="#b31039" stroke-width="0.7"/>
<path d="M448.4,282.4 L450.6,284.6 M450.6,282.4 L448.4,284.6" stroke="#b31039" stroke-width="0.7"/>
<path d="M467.9,331.9 L470.1,334.1 M470.1,331.9 L467.9,334.1" stroke="#b31039" stroke-width="0.7"/>
<path d="M468.9,335.4 L471.1,337.6 M471.1,335.4 L468.9,337.6" stroke="#b31039" stroke-width="0.7"/>
<path d="M485.4,340.4 L487.6,342.6 M487.6,340.4 L485.4,342.6" stroke="#b31039" stroke-width="0.7"/>
<path d="M476.9,343.9 L479.1,346.1 M479.1,343.9 L476.9,346.1" stroke="#b31039" stroke-width="0.7"/>
<path d="M472.9,350.9 L475.1,353.1 M475.1,350.9 L472.9,353.1" stroke="#b31039" stroke-width="0.7"/>
<path d="M478.9,351.9 L481.1,354.1 M481.1,351.9 L478.9,354.1" stroke="#b31039" stroke-width="0.7"/>
<text x="425.80" y="287.90" font-size="9" text-anchor="start" fill="#b31039" stroke="#b31039" stroke-width="0.15" textLength="9.00" lengthAdjust="spacingAndGlyphs">28</text>
<text x="474.70" y="325.50" font-size="9" text-anchor="start" fill="#b31039" stroke="#b31039" stroke-width="0.15" textLength="9.00" lengthAdjust="spacingAndGlyphs">29</text>
<text x="479.00" y="335.30" font-size="9" text-anchor="start" fill="#b31039" stroke="#b31039" stroke-width="0.15" textLength="9.00" lengthAdjust="spacingAndGlyphs">30</text>
<text x="494.50" y="344.70" font-size="9" text-anchor="start" fill="#b31039" stroke="#b31039" stroke-width="0.15" textLength="9.00" lengthAdjust="spacingAndGlyphs">33</text>
<text x="462.20" y="347.40" font-size="9" text-anchor="start" fill="#b31039" stroke="#b31039" stroke-width="0.15" textLength="9.00" lengthAdjust="spacingAndGlyphs">35</text>
<text x="457.20" y="355.10" font-size="9" text-anchor="start" fill="#b31039" stroke="#b31039" stroke-width="0.15" textLength="9.00" lengthAdjust="spacingAndGlyphs">34</text>
<text x="464.20" y="367.60" font-size="9" text-anchor="start" fill="#b31039" stroke="#b31039" stroke-width="0.15" textLength="9.00" lengthAdjust="spacingAndGlyphs">32</text>
<text x="485.80" y="364.20" font-size="9" text-anchor="start" fill="#b31039" stroke="#b31039" stroke-width="0.15" textLength="9.00" lengthAdjust="spacingAndGlyphs">31</text>
<text x="458.50" y="271.90" font-size="9" text-anchor="start" fill="#33508e" stroke="#33508e" stroke-width="0.15" textLength="15.50" lengthAdjust="spacingAndGlyphs">50%</text>
<text x="474.40" y="285.40" font-size="9" text-anchor="start" fill="#33508e" stroke="#33508e" stroke-width="0.15" textLength="15.40" lengthAdjust="spacingAndGlyphs">25%</text>
<text x="484.00" y="301.90" font-size="9" text-anchor="start" fill="#33508e" stroke="#33508e" stroke-width="0.15" textLength="21.80" lengthAdjust="spacingAndGlyphs">12.5%</text>
<text x="499.40" y="325.80" font-size="9" text-anchor="start" fill="#33508e" stroke="#33508e" stroke-width="0.15" textLength="12.60" lengthAdjust="spacingAndGlyphs">0%</text>
<rect x="22.6" y="486.0" width="266.79999999999995" height="30.200000000000045" fill="#d9d9d9"/>
<rect x="22.6" y="486.8" width="266.79999999999995" height="0.8" fill="#eeeeee"/>
<line x1="22.10" y1="486.00" x2="289.90" y2="486.00" stroke="#3a3a3a" stroke-width="1.7"/>
<line x1="22.10" y1="516.20" x2="289.90" y2="516.20" stroke="#1e1e1e" stroke-width="1"/>
<line x1="22.60" y1="535.40" x2="124.60" y2="535.40" stroke="#1e1e1e" stroke-width="1"/>
<line x1="198.60" y1="535.40" x2="289.40" y2="535.40" stroke="#1e1e1e" stroke-width="1"/>
<line x1="22.60" y1="566.00" x2="124.60" y2="566.00" stroke="#1e1e1e" stroke-width="1"/>
<line x1="198.60" y1="566.00" x2="289.40" y2="566.00" stroke="#1e1e1e" stroke-width="1"/>
<line x1="22.60" y1="596.50" x2="124.60" y2="596.50" stroke="#1e1e1e" stroke-width="1"/>
<line x1="198.60" y1="596.50" x2="289.40" y2="596.50" stroke="#1e1e1e" stroke-width="1"/>
<line x1="22.10" y1="615.40" x2="289.90" y2="615.40" stroke="#1e1e1e" stroke-width="1"/>
<line x1="22.60" y1="634.30" x2="124.60" y2="634.30" stroke="#1e1e1e" stroke-width="1"/>
<line x1="198.60" y1="634.30" x2="289.40" y2="634.30" stroke="#1e1e1e" stroke-width="1"/>
<line x1="22.60" y1="653.00" x2="124.60" y2="653.00" stroke="#1e1e1e" stroke-width="1"/>
<line x1="198.60" y1="653.00" x2="289.40" y2="653.00" stroke="#1e1e1e" stroke-width="1"/>
<line x1="22.60" y1="672.00" x2="124.60" y2="672.00" stroke="#1e1e1e" stroke-width="1"/>
<line x1="198.60" y1="672.00" x2="289.40" y2="672.00" stroke="#1e1e1e" stroke-width="1"/>
<line x1="22.10" y1="690.20" x2="289.90" y2="690.20" stroke="#1e1e1e" stroke-width="1.3"/>
<line x1="22.60" y1="486.00" x2="22.60" y2="690.20" stroke="#1e1e1e" stroke-width="1.3"/>
<line x1="74.40" y1="486.00" x2="74.40" y2="690.20" stroke="#1e1e1e" stroke-width="1"/>
<line x1="124.60" y1="486.00" x2="124.60" y2="690.20" stroke="#1e1e1e" stroke-width="1"/>
<line x1="198.60" y1="486.00" x2="198.60" y2="690.20" stroke="#1e1e1e" stroke-width="1"/>
<line x1="289.40" y1="486.00" x2="289.40" y2="690.20" stroke="#1e1e1e" stroke-width="1.3"/>
<text x="48.50" y="499.60" font-size="8.6" text-anchor="middle" font-weight="bold" fill="#141414" textLength="29.00" lengthAdjust="spacingAndGlyphs">Sample</text>
<text x="48.50" y="508.90" font-size="8.6" text-anchor="middle" font-weight="bold" fill="#141414" textLength="30.20" lengthAdjust="spacingAndGlyphs">number</text>
<text x="99.50" y="504.30" font-size="8.6" text-anchor="middle" font-weight="bold" fill="#141414" textLength="35.00" lengthAdjust="spacingAndGlyphs">Cell type</text>
<text x="161.60" y="499.60" font-size="8.6" text-anchor="middle" font-weight="bold" fill="#141414" textLength="27.00" lengthAdjust="spacingAndGlyphs">Mouse</text>
<text x="161.60" y="508.90" font-size="8.6" text-anchor="middle" font-weight="bold" fill="#141414" textLength="34.00" lengthAdjust="spacingAndGlyphs">genotype</text>
<text x="244.00" y="499.60" font-size="8.6" text-anchor="middle" font-weight="bold" fill="#141414" textLength="62.00" lengthAdjust="spacingAndGlyphs">Estimated allele</text>
<text x="244.00" y="508.90" font-size="8.6" text-anchor="middle" font-weight="bold" fill="#141414" textLength="40.00" lengthAdjust="spacingAndGlyphs">burden (%)</text>
<text x="48.50" y="529.00" font-size="8.6" text-anchor="middle" fill="#141414" stroke="#141414" stroke-width="0.15" textLength="9.09" lengthAdjust="spacingAndGlyphs">28</text>
<text x="99.50" y="529.00" font-size="8.6" text-anchor="middle" fill="#141414" stroke="#141414" stroke-width="0.15" textLength="20.89" lengthAdjust="spacingAndGlyphs">CD41</text>
<text x="244.00" y="529.00" font-size="8.6" text-anchor="middle" fill="#141414" stroke="#141414" stroke-width="0.15" textLength="9.09" lengthAdjust="spacingAndGlyphs">50</text>
<text x="48.50" y="553.90" font-size="8.6" text-anchor="middle" fill="#141414" stroke="#141414" stroke-width="0.15" textLength="9.09" lengthAdjust="spacingAndGlyphs">29</text>
<text x="99.50" y="553.90" font-size="8.6" text-anchor="middle" fill="#141414" stroke="#141414" stroke-width="0.15" textLength="24.38" lengthAdjust="spacingAndGlyphs">Ter119</text>
<text x="244.00" y="553.90" font-size="8.6" text-anchor="middle" fill="#141414" stroke="#141414" stroke-width="0.15" textLength="9.09" lengthAdjust="spacingAndGlyphs">10</text>
<text x="48.50" y="584.45" font-size="8.6" text-anchor="middle" fill="#141414" stroke="#141414" stroke-width="0.15" textLength="9.09" lengthAdjust="spacingAndGlyphs">30</text>
<text x="99.50" y="584.45" font-size="8.6" text-anchor="middle" fill="#141414" stroke="#141414" stroke-width="0.15" textLength="16.34" lengthAdjust="spacingAndGlyphs">Gr-1</text>
<text x="244.00" y="584.45" font-size="8.6" text-anchor="middle" fill="#141414" stroke="#141414" stroke-width="0.15" textLength="4.54" lengthAdjust="spacingAndGlyphs">9</text>
<text x="48.50" y="609.15" font-size="8.6" text-anchor="middle" fill="#141414" stroke="#141414" stroke-width="0.15" textLength="9.09" lengthAdjust="spacingAndGlyphs">31</text>
<text x="99.50" y="609.15" font-size="8.6" text-anchor="middle" fill="#141414" stroke="#141414" stroke-width="0.15" textLength="20.89" lengthAdjust="spacingAndGlyphs">CD31</text>
<text x="244.00" y="609.15" font-size="8.6" text-anchor="middle" fill="#141414" stroke="#141414" stroke-width="0.15" textLength="4.54" lengthAdjust="spacingAndGlyphs">0</text>
<text x="48.50" y="628.05" font-size="8.6" text-anchor="middle" fill="#141414" stroke="#141414" stroke-width="0.15" textLength="9.09" lengthAdjust="spacingAndGlyphs">32</text>
<text x="99.50" y="628.05" font-size="8.6" text-anchor="middle" fill="#141414" stroke="#141414" stroke-width="0.15" textLength="20.89" lengthAdjust="spacingAndGlyphs">CD41</text>
<text x="244.00" y="628.05" font-size="8.6" text-anchor="middle" fill="#141414" stroke="#141414" stroke-width="0.15" textLength="4.54" lengthAdjust="spacingAndGlyphs">0</text>
<text x="48.50" y="646.85" font-size="8.6" text-anchor="middle" fill="#141414" stroke="#141414" stroke-width="0.15" textLength="9.09" lengthAdjust="spacingAndGlyphs">33</text>
<text x="99.50" y="646.85" font-size="8.6" text-anchor="middle" fill="#141414" stroke="#141414" stroke-width="0.15" textLength="24.38" lengthAdjust="spacingAndGlyphs">Ter119</text>
<text x="244.00" y="646.85" font-size="8.6" text-anchor="middle" fill="#141414" stroke="#141414" stroke-width="0.15" textLength="4.54" lengthAdjust="spacingAndGlyphs">0</text>
<text x="48.50" y="665.70" font-size="8.6" text-anchor="middle" fill="#141414" stroke="#141414" stroke-width="0.15" textLength="9.09" lengthAdjust="spacingAndGlyphs">34</text>
<text x="99.50" y="665.70" font-size="8.6" text-anchor="middle" fill="#141414" stroke="#141414" stroke-width="0.15" textLength="16.34" lengthAdjust="spacingAndGlyphs">Gr-1</text>
<text x="244.00" y="665.70" font-size="8.6" text-anchor="middle" fill="#141414" stroke="#141414" stroke-width="0.15" textLength="4.54" lengthAdjust="spacingAndGlyphs">0</text>
<text x="48.50" y="684.30" font-size="8.6" text-anchor="middle" fill="#141414" stroke="#141414" stroke-width="0.15" textLength="9.09" lengthAdjust="spacingAndGlyphs">35</text>
<text x="99.50" y="684.30" font-size="8.6" text-anchor="middle" fill="#141414" stroke="#141414" stroke-width="0.15" textLength="20.89" lengthAdjust="spacingAndGlyphs">CD31</text>
<text x="244.00" y="684.30" font-size="8.6" text-anchor="middle" fill="#141414" stroke="#141414" stroke-width="0.15" textLength="4.54" lengthAdjust="spacingAndGlyphs">0</text>
<text x="162.10" y="562.70" font-size="8.6" text-anchor="middle" fill="#141414" stroke="#141414" stroke-width="0.15" textLength="31.70" lengthAdjust="spacingAndGlyphs"><tspan font-style="italic">PF4iCre;</tspan></text>
<text x="162.10" y="573.00" font-size="8.6" text-anchor="middle" fill="#141414" stroke="#141414" stroke-width="0.15" textLength="49.00" lengthAdjust="spacingAndGlyphs"><tspan font-style="italic">JAK2</tspan><tspan font-size="6" dy="-3.2" font-style="italic">V617F/WT</tspan></text>
<text x="162.10" y="650.30" font-size="8.6" text-anchor="middle" fill="#141414" stroke="#141414" stroke-width="0.15" textLength="31.70" lengthAdjust="spacingAndGlyphs"><tspan font-style="italic">PF4iCre;</tspan></text>
<text x="162.10" y="660.60" font-size="8.6" text-anchor="middle" fill="#141414" stroke="#141414" stroke-width="0.15" textLength="41.00" lengthAdjust="spacingAndGlyphs"><tspan font-style="italic">JAK2</tspan><tspan font-size="6" dy="-3.2" font-style="italic">WT/WT</tspan></text>
<rect x="0.5" y="0.5" width="519" height="698" fill="none" stroke="#000" stroke-width="1.2"/>
</svg></body></html>
